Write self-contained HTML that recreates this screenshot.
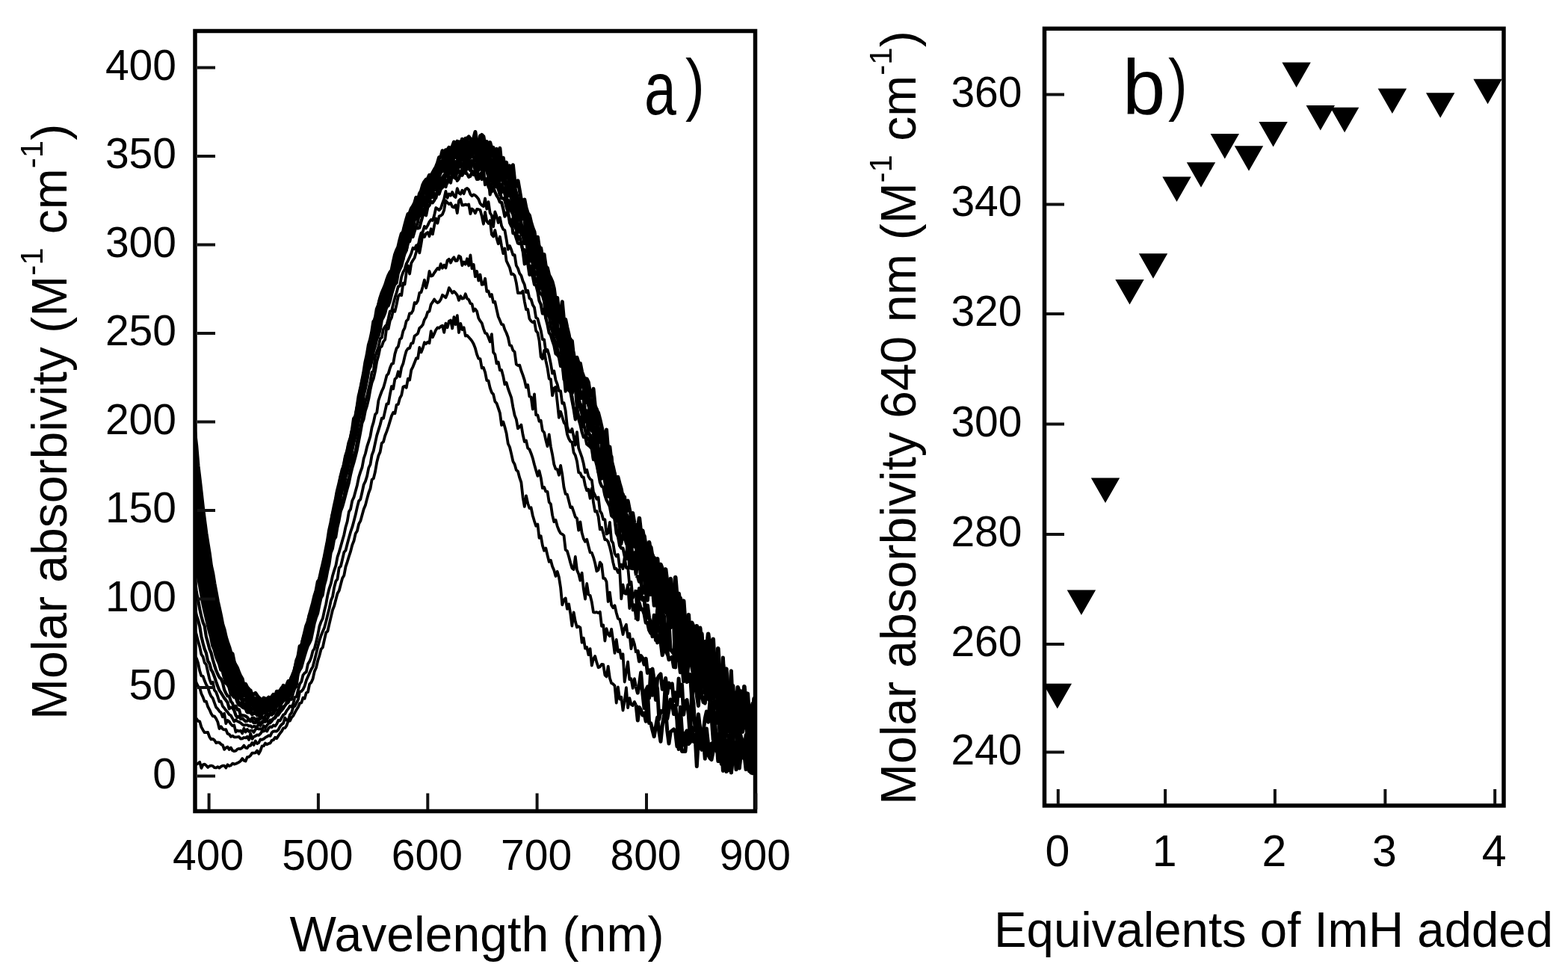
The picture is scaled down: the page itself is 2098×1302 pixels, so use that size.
<!DOCTYPE html>
<html><head><meta charset="utf-8"><title>Figure</title><style>html,body{margin:0;padding:0;background:#fff;overflow:hidden}svg{display:block}</style></head><body>
<svg width="2098" height="1302" viewBox="0 0 2098 1302">
<rect width="100%" height="100%" fill="#fff"/>
<defs><clipPath id="ca"><rect x="261" y="41.5" width="749.5" height="1044"/></clipPath></defs>
<g clip-path="url(#ca)" fill="none" stroke="#000" stroke-width="4" stroke-linejoin="round">
<polyline points="256.2,1022.0 258.4,1023.9 260.6,1021.9 262.8,1022.9 265.0,1021.7 267.2,1019.8 269.4,1027.8 271.6,1023.3 273.7,1022.6 275.9,1024.2 278.1,1026.9 280.3,1025.1 282.5,1024.5 284.7,1025.0 286.9,1027.2 289.1,1027.4 291.3,1026.1 293.5,1027.6 295.7,1025.7 297.9,1024.6 300.1,1024.6 302.3,1027.4 304.5,1023.3 306.7,1025.0 308.9,1024.3 311.1,1021.6 313.3,1022.6 315.5,1022.0 317.6,1021.1 319.8,1019.9 322.0,1018.2 324.2,1015.1 326.4,1017.7 328.6,1018.5 330.8,1013.1 333.0,1012.9 335.2,1010.9 337.4,1007.7 339.6,1007.6 341.8,1007.3 344.0,1004.5 346.2,1008.7 348.4,1004.5 350.6,998.3 352.8,998.2 355.0,994.6 357.2,996.1 359.4,995.0 361.6,994.4 363.7,990.8 365.9,990.1 368.1,986.7 370.3,988.1 372.5,984.5 374.7,981.2 376.9,978.5 379.1,974.3 381.3,974.2 383.5,970.9 385.7,964.7 387.9,964.7 390.1,960.1 392.3,958.0 394.5,953.6 396.7,949.6 398.9,946.3 401.1,941.0 403.3,940.5 405.5,933.7 407.6,934.8 409.8,927.1 412.0,926.0 414.2,915.3 416.4,913.2 418.6,908.4 420.8,898.4 423.0,893.5 425.2,884.3 427.4,877.3 429.6,868.8 431.8,866.3 434.0,856.1 436.2,846.5 438.4,844.5 440.6,834.9 442.8,825.6 445.0,816.3 447.2,810.8 449.4,802.2 451.5,794.3 453.7,790.4 455.9,781.9 458.1,773.8 460.3,770.1 462.5,758.4 464.7,751.8 466.9,744.5 469.1,737.9 471.3,729.2 473.5,723.8 475.7,714.1 477.9,710.5 480.1,701.2 482.3,697.2 484.5,689.2 486.7,681.2 488.9,676.1 491.1,667.4 493.3,659.5 495.5,653.8 497.6,641.8 499.8,640.3 502.0,631.3 504.2,618.6 506.4,609.8 508.6,604.9 510.8,592.9 513.0,591.2 515.2,583.0 517.4,577.4 519.6,571.0 521.8,563.6 524.0,556.4 526.2,551.9 528.4,553.3 530.6,541.7 532.8,540.9 535.0,532.8 537.2,528.9 539.4,517.7 541.5,516.7 543.7,518.8 545.9,506.7 548.1,508.6 550.3,495.1 552.5,490.8 554.7,485.3 556.9,479.3 559.1,479.6 561.3,464.8 563.5,471.4 565.7,466.1 567.9,458.2 570.1,460.0 572.3,457.6 574.5,459.1 576.7,443.2 578.9,451.2 581.1,446.4 583.3,441.3 585.5,438.4 587.6,439.0 589.8,436.8 592.0,435.7 594.2,444.9 596.4,432.7 598.6,438.3 600.8,429.7 603.0,428.6 605.2,439.5 607.4,424.2 609.6,434.2 611.8,422.2 614.0,445.0 616.2,432.8 618.4,441.1 620.6,438.2 622.8,449.5 625.0,448.9 627.2,451.3 629.4,453.7 631.5,456.4 633.7,460.2 635.9,465.9 638.1,474.3 640.3,479.9 642.5,480.2 644.7,492.5 646.9,491.9 649.1,498.1 651.3,509.1 653.5,509.3 655.7,519.1 657.9,525.2 660.1,527.6 662.3,537.2 664.5,539.7 666.7,546.0 668.9,552.6 671.1,568.9 673.3,564.4 675.4,571.2 677.6,579.8 679.8,593.7 682.0,598.3 684.2,607.4 686.4,617.4 688.6,621.3 690.8,629.0 693.0,630.7 695.2,639.2 697.4,645.5 699.6,665.3 701.8,677.9 704.0,663.3 706.2,673.5 708.4,680.0 710.6,679.3 712.8,690.0 715.0,697.3 717.2,703.8 719.4,701.6 721.5,719.9 723.7,717.2 725.9,729.9 728.1,736.8 730.3,733.5 732.5,743.0 734.7,751.7 736.9,749.7 739.1,758.0 741.3,763.1 743.5,771.0 745.7,764.8 747.9,772.4 750.1,786.2 752.3,809.3 754.5,802.7 756.7,800.4 758.9,814.8 761.1,808.4 763.3,821.3 765.4,837.5 767.6,819.3 769.8,831.5 772.0,839.4 774.2,838.2 776.4,839.7 778.6,859.9 780.8,853.7 783.0,867.7 785.2,866.1 787.4,876.2 789.6,868.1 791.8,890.6 794.0,881.6 796.2,878.0 798.4,886.4 800.6,893.2 802.8,892.3 805.0,889.0 807.2,889.2 809.4,903.3 811.5,905.4 813.7,891.6 815.9,907.4 818.1,914.1 820.3,915.2 822.5,917.6 824.7,940.6 826.9,919.4 829.1,935.5 831.3,932.7 833.5,950.6 835.7,937.6 837.9,920.2 840.1,947.1 842.3,934.1 844.5,942.6 846.7,944.1 848.9,939.1 851.1,943.3" stroke-width="3.8"/>
<polyline points="851.1,943.3 853.3,964.1 855.4,946.5 857.6,950.3 859.8,957.0 862.0,954.3 864.2,965.2 866.4,923.7 868.6,967.6 870.8,967.7 873.0,977.2 875.2,985.5 877.4,972.3 879.6,960.1 881.8,978.6 884.0,992.3 886.2,970.7 888.4,958.2 890.6,950.1 892.8,978.0 895.0,994.9 897.2,979.5 899.3,977.7 901.5,975.9 903.7,980.2 905.9,998.8 908.1,973.2 910.3,991.2 912.5,1005.4 914.7,1005.4 916.9,1005.6 919.1,983.4 921.3,995.5 923.5,993.1 925.7,978.6 927.9,992.3 930.1,985.9 932.3,1025.5 934.5,988.7 936.7,980.2 938.9,1003.1 941.1,976.7 943.3,981.5 945.4,1007.8 947.6,1010.4 949.8,1014.4 952.0,1016.6 954.2,1005.6 956.4,989.4 958.6,990.8 960.8,1018.6 963.0,989.9 965.2,1022.3 967.4,996.3 969.6,998.2 971.8,1032.5 974.0,992.2 976.2,1001.4 978.4,1033.9 980.6,1014.2 982.8,993.6 985.0,1005.7 987.2,1018.2 989.3,1025.5 991.5,1001.6 993.7,1005.6 995.9,1010.6 998.1,1029.6 1000.3,1014.0 1002.5,1031.8 1004.7,1006.0 1006.9,1019.6 1009.1,1033.5 1011.3,1027.2 1013.5,992.6 1015.7,1022.9 1017.9,985.8" stroke-width="5.0"/>
<polyline points="256.2,957.7 258.4,951.4 260.6,961.7 262.8,961.7 265.0,964.8 267.2,965.3 269.4,972.9 271.6,976.9 273.7,980.2 275.9,980.2 278.1,980.0 280.3,986.2 282.5,989.4 284.7,988.9 286.9,990.4 289.1,994.1 291.3,993.3 293.5,993.7 295.7,995.9 297.9,996.9 300.1,1002.9 302.3,1000.6 304.5,999.4 306.7,1002.9 308.9,1000.5 311.1,1004.3 313.3,1005.2 315.5,1004.7 317.6,1002.5 319.8,1001.8 322.0,1002.1 324.2,1000.4 326.4,997.6 328.6,1000.7 330.8,1001.0 333.0,997.7 335.2,997.8 337.4,993.9 339.6,996.9 341.8,991.4 344.0,995.1 346.2,993.9 348.4,989.5 350.6,989.8 352.8,988.8 355.0,986.9 357.2,985.8 359.4,984.2 361.6,984.9 363.7,980.3 365.9,978.6 368.1,978.3 370.3,978.5 372.5,976.4 374.7,972.0 376.9,969.4 379.1,967.9 381.3,960.5 383.5,963.8 385.7,963.8 387.9,956.5 390.1,953.8 392.3,946.4 394.5,944.8 396.7,940.3 398.9,936.3 401.1,925.5 403.3,925.1 405.5,922.5 407.6,918.0 409.8,910.6 412.0,905.6 414.2,900.6 416.4,895.8 418.6,892.1 420.8,883.6 423.0,874.9 425.2,865.6 427.4,857.1 429.6,850.5 431.8,845.0 434.0,839.9 436.2,831.7 438.4,822.7 440.6,814.0 442.8,803.6 445.0,798.6 447.2,785.9 449.4,777.6 451.5,774.8 453.7,759.9 455.9,757.7 458.1,748.8 460.3,739.1 462.5,736.5 464.7,727.7 466.9,719.6 469.1,711.7 471.3,705.4 473.5,697.2 475.7,688.8 477.9,678.9 480.1,670.3 482.3,668.1 484.5,658.7 486.7,648.5 488.9,644.1 491.1,637.2 493.3,626.0 495.5,621.5 497.6,608.9 499.8,603.2 502.0,592.9 504.2,582.6 506.4,575.6 508.6,568.5 510.8,559.7 513.0,559.9 515.2,550.2 517.4,540.5 519.6,540.4 521.8,527.9 524.0,517.0 526.2,520.3 528.4,507.2 530.6,505.4 532.8,497.3 535.0,503.9 537.2,491.7 539.4,486.6 541.5,477.3 543.7,469.5 545.9,466.4 548.1,465.9 550.3,459.4 552.5,459.2 554.7,449.5 556.9,448.1 559.1,446.3 561.3,438.9 563.5,437.2 565.7,434.6 567.9,427.7 570.1,424.3 572.3,417.4 574.5,416.6 576.7,407.3 578.9,404.2 581.1,400.5 583.3,403.5 585.5,405.2 587.6,403.8 589.8,400.7 592.0,394.8 594.2,396.3 596.4,398.2 598.6,392.9 600.8,385.2 603.0,388.4 605.2,392.1 607.4,389.9 609.6,392.1 611.8,395.0 614.0,401.8 616.2,396.3 618.4,399.6 620.6,399.2 622.8,393.3 625.0,399.7 627.2,400.9 629.4,406.0 631.5,406.7 633.7,416.5 635.9,413.5 638.1,416.6 640.3,425.8 642.5,429.4 644.7,432.3 646.9,439.8 649.1,445.7 651.3,446.3 653.5,451.6 655.7,457.3 657.9,447.2 660.1,471.6 662.3,474.2 664.5,486.3 666.7,484.5 668.9,495.3 671.1,495.2 673.3,503.5 675.4,514.3 677.6,512.0 679.8,520.0 682.0,526.1 684.2,532.2 686.4,544.8 688.6,555.6 690.8,561.1 693.0,573.3 695.2,571.2 697.4,568.5 699.6,581.8 701.8,591.0 704.0,589.6 706.2,599.7 708.4,601.3 710.6,606.7 712.8,613.1 715.0,621.7 717.2,629.4 719.4,636.9 721.5,630.0 723.7,639.1 725.9,653.1 728.1,652.0 730.3,657.7 732.5,657.9 734.7,671.9 736.9,674.4 739.1,689.4 741.3,698.2 743.5,695.8 745.7,704.1 747.9,709.7 750.1,713.6 752.3,714.8 754.5,716.6 756.7,735.8 758.9,737.4 761.1,744.7 763.3,753.2 765.4,760.3 767.6,762.1 769.8,744.9 772.0,762.7 774.2,767.9 776.4,776.7 778.6,766.6 780.8,788.0 783.0,801.5 785.2,781.0 787.4,795.4 789.6,796.8 791.8,805.5 794.0,819.3 796.2,819.7 798.4,819.1 800.6,820.2 802.8,818.7 805.0,837.8 807.2,836.5 809.4,857.5 811.5,841.2 813.7,848.8 815.9,851.2 818.1,841.9 820.3,856.7 822.5,873.9 824.7,855.8 826.9,872.0 829.1,869.7 831.3,880.9 833.5,875.3 835.7,912.5 837.9,898.8 840.1,885.7 842.3,909.2 844.5,908.2 846.7,920.9 848.9,908.2 851.1,918.6" stroke-width="3.8"/>
<polyline points="851.1,918.6 853.3,927.2 855.4,916.0 857.6,899.9 859.8,927.8 862.0,947.5 864.2,923.8 866.4,918.9 868.6,934.1 870.8,896.5 873.0,930.2 875.2,927.5 877.4,913.9 879.6,921.7 881.8,962.4 884.0,951.4 886.2,952.9 888.4,948.7 890.6,909.8 892.8,961.7 895.0,950.1 897.2,936.0 899.3,940.7 901.5,955.6 903.7,944.1 905.9,964.0 908.1,1002.5 910.3,946.2 912.5,978.4 914.7,997.1 916.9,981.4 919.1,977.9 921.3,981.0 923.5,990.3 925.7,973.3 927.9,988.4 930.1,991.4 932.3,979.3 934.5,965.4 936.7,994.8 938.9,1003.1 941.1,986.4 943.3,1015.3 945.4,974.9 947.6,995.8 949.8,1008.3 952.0,994.8 954.2,994.2 956.4,983.6 958.6,1005.1 960.8,1001.2 963.0,988.1 965.2,994.2 967.4,1031.4 969.6,993.8 971.8,1031.3 974.0,992.0 976.2,983.3 978.4,1033.6 980.6,990.8 982.8,1002.4 985.0,1029.8 987.2,987.3 989.3,1028.1 991.5,1006.1 993.7,1013.8 995.9,1014.6 998.1,992.0 1000.3,1025.0 1002.5,1025.8 1004.7,1033.8 1006.9,1034.6 1009.1,1015.2 1011.3,1003.6 1013.5,1001.0 1015.7,1031.6 1017.9,1019.3" stroke-width="5.0"/>
<polyline points="256.2,894.9 258.4,902.1 260.6,907.2 262.8,913.8 265.0,918.3 267.2,920.3 269.4,928.2 271.6,932.9 273.7,938.7 275.9,938.7 278.1,945.5 280.3,949.6 282.5,954.7 284.7,958.3 286.9,958.3 289.1,961.5 291.3,966.0 293.5,975.1 295.7,972.2 297.9,975.4 300.1,976.4 302.3,976.2 304.5,981.8 306.7,982.6 308.9,985.7 311.1,984.6 313.3,986.3 315.5,986.4 317.6,986.2 319.8,985.9 322.0,988.5 324.2,988.3 326.4,987.0 328.6,987.4 330.8,985.8 333.0,989.9 335.2,981.5 337.4,988.9 339.6,985.7 341.8,984.9 344.0,983.4 346.2,983.9 348.4,981.9 350.6,978.6 352.8,978.5 355.0,976.7 357.2,978.5 359.4,974.4 361.6,972.4 363.7,973.1 365.9,970.5 368.1,971.6 370.3,968.6 372.5,963.8 374.7,964.4 376.9,960.2 379.1,956.5 381.3,955.4 383.5,951.1 385.7,948.4 387.9,944.8 390.1,945.9 392.3,941.9 394.5,933.1 396.7,932.3 398.9,923.3 401.1,915.2 403.3,912.2 405.5,903.3 407.6,900.6 409.8,899.2 412.0,888.6 414.2,885.1 416.4,879.6 418.6,871.0 420.8,867.8 423.0,859.1 425.2,849.8 427.4,838.0 429.6,832.0 431.8,827.7 434.0,817.3 436.2,808.4 438.4,796.2 440.6,787.3 442.8,780.9 445.0,770.5 447.2,763.1 449.4,756.6 451.5,745.4 453.7,738.8 455.9,731.2 458.1,723.3 460.3,715.7 462.5,705.2 464.7,697.8 466.9,684.7 469.1,681.2 471.3,670.0 473.5,665.4 475.7,657.3 477.9,649.2 480.1,638.5 482.3,631.4 484.5,625.5 486.7,613.5 488.9,607.0 491.1,597.7 493.3,590.8 495.5,583.7 497.6,572.0 499.8,564.9 502.0,554.6 504.2,552.3 506.4,536.0 508.6,529.5 510.8,523.5 513.0,518.9 515.2,511.2 517.4,502.6 519.6,500.1 521.8,492.5 524.0,487.1 526.2,486.2 528.4,473.6 530.6,466.1 532.8,463.7 535.0,454.0 537.2,452.4 539.4,442.9 541.5,438.9 543.7,429.6 545.9,427.5 548.1,419.3 550.3,419.3 552.5,415.6 554.7,405.0 556.9,406.1 559.1,402.3 561.3,391.8 563.5,391.1 565.7,383.5 567.9,374.6 570.1,385.2 572.3,376.9 574.5,363.0 576.7,369.5 578.9,368.7 581.1,365.1 583.3,361.9 585.5,358.9 587.6,360.6 589.8,353.1 592.0,358.8 594.2,354.7 596.4,358.6 598.6,348.5 600.8,346.8 603.0,351.6 605.2,346.9 607.4,344.2 609.6,349.1 611.8,348.8 614.0,342.5 616.2,343.8 618.4,355.2 620.6,350.6 622.8,353.7 625.0,346.3 627.2,355.5 629.4,341.3 631.5,359.4 633.7,353.9 635.9,370.2 638.1,363.0 640.3,375.5 642.5,367.5 644.7,380.9 646.9,380.5 649.1,372.8 651.3,390.0 653.5,389.5 655.7,396.7 657.9,394.0 660.1,404.6 662.3,403.8 664.5,414.2 666.7,423.7 668.9,428.7 671.1,434.1 673.3,434.3 675.4,441.0 677.6,445.5 679.8,451.5 682.0,461.9 684.2,462.5 686.4,468.9 688.6,470.9 690.8,487.4 693.0,489.1 695.2,488.6 697.4,496.0 699.6,501.8 701.8,508.6 704.0,518.3 706.2,515.1 708.4,530.5 710.6,531.3 712.8,547.5 715.0,527.4 717.2,555.3 719.4,555.5 721.5,563.7 723.7,562.7 725.9,576.3 728.1,578.7 730.3,588.8 732.5,597.2 734.7,581.4 736.9,597.6 739.1,608.3 741.3,621.4 743.5,627.6 745.7,628.0 747.9,635.7 750.1,622.9 752.3,634.9 754.5,652.0 756.7,661.0 758.9,661.6 761.1,670.3 763.3,679.1 765.4,678.5 767.6,684.8 769.8,691.7 772.0,693.6 774.2,709.7 776.4,698.3 778.6,713.1 780.8,720.8 783.0,724.7 785.2,721.8 787.4,730.7 789.6,739.2 791.8,739.6 794.0,745.6 796.2,753.5 798.4,764.3 800.6,762.7 802.8,752.4 805.0,755.1 807.2,773.8 809.4,774.1 811.5,778.5 813.7,805.0 815.9,792.7 818.1,809.8 820.3,813.3 822.5,810.2 824.7,820.0 826.9,827.7 829.1,828.5 831.3,837.4 833.5,849.0 835.7,840.3 837.9,835.8 840.1,852.5 842.3,848.0 844.5,868.2 846.7,855.1 848.9,861.8 851.1,873.7" stroke-width="3.8"/>
<polyline points="851.1,873.7 853.3,871.4 855.4,884.9 857.6,877.6 859.8,880.7 862.0,889.0 864.2,881.3 866.4,900.5 868.6,896.9 870.8,901.4 873.0,895.2 875.2,909.4 877.4,936.6 879.6,908.1 881.8,904.4 884.0,901.8 886.2,922.3 888.4,918.2 890.6,907.5 892.8,928.1 895.0,914.0 897.2,919.8 899.3,914.9 901.5,938.3 903.7,926.9 905.9,943.3 908.1,908.0 910.3,931.3 912.5,916.1 914.7,956.2 916.9,938.7 919.1,936.6 921.3,956.6 923.5,988.7 925.7,924.2 927.9,941.0 930.1,976.8 932.3,979.5 934.5,955.7 936.7,974.2 938.9,988.4 941.1,978.3 943.3,961.4 945.4,952.1 947.6,966.3 949.8,939.9 952.0,958.9 954.2,989.5 956.4,961.1 958.6,992.7 960.8,986.0 963.0,980.8 965.2,978.9 967.4,970.6 969.6,985.8 971.8,1008.4 974.0,1031.1 976.2,996.9 978.4,1001.4 980.6,986.0 982.8,984.4 985.0,978.8 987.2,1004.1 989.3,1013.4 991.5,987.9 993.7,993.6 995.9,1004.3 998.1,983.6 1000.3,1011.1 1002.5,1025.7 1004.7,995.1 1006.9,976.4 1009.1,1016.6 1011.3,972.8 1013.5,975.4 1015.7,1003.1 1017.9,1025.3" stroke-width="5.0"/>
<polyline points="256.2,856.2 258.4,862.7 260.6,878.0 262.8,880.7 265.0,887.0 267.2,897.6 269.4,904.4 271.6,904.8 273.7,910.8 275.9,916.1 278.1,919.6 280.3,926.9 282.5,931.8 284.7,934.3 286.9,940.3 289.1,946.4 291.3,948.6 293.5,951.7 295.7,953.5 297.9,959.2 300.1,954.8 302.3,968.1 304.5,963.9 306.7,965.6 308.9,969.0 311.1,971.3 313.3,970.4 315.5,979.5 317.6,977.4 319.8,978.4 322.0,977.7 324.2,981.4 326.4,974.6 328.6,979.4 330.8,975.9 333.0,978.9 335.2,977.6 337.4,977.7 339.6,979.9 341.8,976.0 344.0,974.7 346.2,975.6 348.4,975.1 350.6,976.7 352.8,971.1 355.0,973.9 357.2,970.4 359.4,967.9 361.6,967.3 363.7,964.9 365.9,961.9 368.1,960.9 370.3,957.6 372.5,956.9 374.7,953.2 376.9,950.8 379.1,948.1 381.3,944.3 383.5,941.5 385.7,940.2 387.9,935.3 390.1,936.0 392.3,927.2 394.5,921.0 396.7,918.6 398.9,901.8 401.1,896.9 403.3,893.5 405.5,885.6 407.6,878.3 409.8,871.0 412.0,864.6 414.2,860.6 416.4,855.7 418.6,845.2 420.8,834.2 423.0,826.6 425.2,821.0 427.4,810.3 429.6,800.3 431.8,796.5 434.0,783.3 436.2,775.6 438.4,764.1 440.6,754.7 442.8,739.7 445.0,734.3 447.2,722.0 449.4,718.6 451.5,705.7 453.7,696.5 455.9,684.4 458.1,678.6 460.3,671.0 462.5,662.5 464.7,654.2 466.9,646.4 469.1,635.5 471.3,626.5 473.5,619.2 475.7,611.0 477.9,602.0 480.1,590.4 482.3,579.0 484.5,566.4 486.7,561.0 488.9,549.7 491.1,542.9 493.3,533.9 495.5,521.4 497.6,512.1 499.8,506.5 502.0,496.6 504.2,483.8 506.4,476.0 508.6,465.1 510.8,463.4 513.0,457.2 515.2,454.3 517.4,438.1 519.6,440.0 521.8,429.2 524.0,424.9 526.2,414.6 528.4,416.8 530.6,407.5 532.8,396.7 535.0,393.8 537.2,395.2 539.4,379.0 541.5,380.4 543.7,364.9 545.9,355.4 548.1,366.5 550.3,352.1 552.5,348.3 554.7,345.0 556.9,337.2 559.1,327.1 561.3,338.4 563.5,326.4 565.7,312.7 567.9,317.1 570.1,312.4 572.3,311.1 574.5,316.2 576.7,306.3 578.9,313.4 581.1,301.8 583.3,292.3 585.5,298.7 587.6,289.3 589.8,288.6 592.0,286.7 594.2,281.3 596.4,268.5 598.6,271.2 600.8,273.2 603.0,271.7 605.2,276.7 607.4,277.6 609.6,274.4 611.8,285.1 614.0,268.5 616.2,266.4 618.4,274.7 620.6,274.5 622.8,273.6 625.0,274.4 627.2,273.5 629.4,286.2 631.5,279.5 633.7,281.3 635.9,285.3 638.1,280.0 640.3,280.2 642.5,281.1 644.7,289.2 646.9,299.7 649.1,283.9 651.3,296.0 653.5,298.9 655.7,295.1 657.9,313.9 660.1,316.6 662.3,308.2 664.5,318.6 666.7,326.2 668.9,316.8 671.1,329.1 673.3,339.2 675.4,332.5 677.6,349.0 679.8,353.7 682.0,358.3 684.2,367.0 686.4,366.6 688.6,368.8 690.8,378.4 693.0,392.1 695.2,392.0 697.4,392.1 699.6,389.5 701.8,403.3 704.0,414.0 706.2,413.9 708.4,426.5 710.6,429.6 712.8,431.4 715.0,429.7 717.2,442.7 719.4,445.3 721.5,455.5 723.7,477.3 725.9,480.3 728.1,469.0 730.3,482.3 732.5,492.3 734.7,506.8 736.9,507.3 739.1,529.4 741.3,519.5 743.5,517.9 745.7,538.1 747.9,558.8 750.1,550.8 752.3,557.8 754.5,565.3 756.7,568.2 758.9,581.0 761.1,587.0 763.3,590.8 765.4,591.5 767.6,605.5 769.8,609.2 772.0,617.3 774.2,632.1 776.4,632.9 778.6,638.1 780.8,638.7 783.0,649.5 785.2,656.4 787.4,654.7 789.6,666.8 791.8,653.6 794.0,672.4 796.2,684.5 798.4,684.0 800.6,691.1 802.8,708.4 805.0,705.8 807.2,713.4 809.4,722.2 811.5,722.1 813.7,724.9 815.9,731.9 818.1,741.3 820.3,752.6 822.5,761.2 824.7,761.0 826.9,766.1 829.1,761.5 831.3,801.4 833.5,782.5 835.7,793.9 837.9,794.7 840.1,782.4 842.3,814.1 844.5,786.8 846.7,816.6 848.9,809.2 851.1,829.3" stroke-width="3.8"/>
<polyline points="851.1,829.3 853.3,817.1 855.4,807.2 857.6,815.4 859.8,815.3 862.0,821.4 864.2,833.2 866.4,833.2 868.6,843.1 870.8,847.3 873.0,834.0 875.2,832.7 877.4,843.4 879.6,860.0 881.8,850.8 884.0,858.9 886.2,876.8 888.4,870.1 890.6,861.2 892.8,872.0 895.0,882.8 897.2,881.3 899.3,879.2 901.5,892.5 903.7,867.4 905.9,882.8 908.1,884.1 910.3,887.0 912.5,887.8 914.7,912.1 916.9,887.4 919.1,910.3 921.3,911.4 923.5,902.6 925.7,936.6 927.9,915.1 930.1,903.8 932.3,930.5 934.5,944.5 936.7,898.1 938.9,930.3 941.1,939.6 943.3,941.0 945.4,919.6 947.6,935.1 949.8,937.7 952.0,944.3 954.2,942.8 956.4,968.0 958.6,967.5 960.8,944.2 963.0,949.6 965.2,980.9 967.4,1015.1 969.6,946.9 971.8,972.4 974.0,946.8 976.2,939.7 978.4,1011.7 980.6,1004.7 982.8,953.2 985.0,973.3 987.2,964.0 989.3,978.6 991.5,985.7 993.7,992.2 995.9,995.1 998.1,1011.8 1000.3,964.3 1002.5,972.0 1004.7,959.4 1006.9,1004.0 1009.1,982.1 1011.3,968.3 1013.5,998.6 1015.7,1002.5 1017.9,1028.5" stroke-width="5.0"/>
<polyline points="256.2,823.3 258.4,831.0 260.6,841.3 262.8,849.0 265.0,857.6 267.2,865.4 269.4,875.6 271.6,878.8 273.7,886.7 275.9,889.3 278.1,899.0 280.3,908.7 282.5,914.7 284.7,912.8 286.9,923.5 289.1,926.0 291.3,932.0 293.5,938.9 295.7,938.5 297.9,945.0 300.1,947.5 302.3,950.6 304.5,952.9 306.7,956.2 308.9,957.4 311.1,961.4 313.3,965.6 315.5,963.3 317.6,965.2 319.8,966.0 322.0,967.3 324.2,969.4 326.4,970.7 328.6,970.2 330.8,970.2 333.0,971.5 335.2,971.1 337.4,973.3 339.6,971.8 341.8,972.2 344.0,973.3 346.2,968.1 348.4,970.9 350.6,967.6 352.8,966.1 355.0,965.9 357.2,964.5 359.4,966.5 361.6,963.4 363.7,963.6 365.9,961.0 368.1,959.6 370.3,954.5 372.5,952.2 374.7,948.0 376.9,946.6 379.1,945.6 381.3,944.2 383.5,939.5 385.7,935.2 387.9,930.9 390.1,927.2 392.3,922.6 394.5,915.4 396.7,910.3 398.9,901.4 401.1,893.4 403.3,885.7 405.5,881.4 407.6,872.6 409.8,865.4 412.0,860.0 414.2,852.5 416.4,845.8 418.6,837.4 420.8,827.9 423.0,823.3 425.2,813.0 427.4,803.6 429.6,793.4 431.8,786.8 434.0,779.7 436.2,768.5 438.4,758.2 440.6,750.1 442.8,733.2 445.0,724.3 447.2,715.3 449.4,703.6 451.5,697.8 453.7,683.2 455.9,679.5 458.1,670.5 460.3,664.1 462.5,650.7 464.7,645.4 466.9,638.5 469.1,627.1 471.3,616.3 473.5,609.2 475.7,603.0 477.9,590.5 480.1,580.4 482.3,571.9 484.5,560.0 486.7,547.9 488.9,536.8 491.1,530.1 493.3,520.2 495.5,510.4 497.6,497.8 499.8,496.3 502.0,477.3 504.2,470.6 506.4,464.5 508.6,453.3 510.8,451.8 513.0,440.4 515.2,436.9 517.4,434.7 519.6,426.7 521.8,416.5 524.0,415.9 526.2,406.6 528.4,398.4 530.6,391.6 532.8,383.4 535.0,382.7 537.2,370.5 539.4,364.1 541.5,360.4 543.7,352.9 545.9,348.8 548.1,344.0 550.3,339.0 552.5,331.8 554.7,333.1 556.9,328.6 559.1,331.7 561.3,319.5 563.5,311.8 565.7,310.3 567.9,302.9 570.1,305.4 572.3,301.6 574.5,296.8 576.7,293.9 578.9,295.0 581.1,288.2 583.3,278.0 585.5,279.6 587.6,281.3 589.8,278.9 592.0,272.2 594.2,266.2 596.4,255.9 598.6,264.9 600.8,259.4 603.0,261.7 605.2,257.1 607.4,262.2 609.6,263.9 611.8,252.1 614.0,258.1 616.2,259.7 618.4,254.7 620.6,259.2 622.8,253.1 625.0,252.0 627.2,254.0 629.4,259.9 631.5,262.2 633.7,260.5 635.9,261.5 638.1,263.7 640.3,266.5 642.5,272.3 644.7,274.8 646.9,276.3 649.1,265.5 651.3,279.7 653.5,270.1 655.7,285.0 657.9,288.3 660.1,303.3 662.3,283.5 664.5,289.5 666.7,298.0 668.9,291.0 671.1,302.3 673.3,306.9 675.4,308.1 677.6,320.3 679.8,333.8 682.0,329.0 684.2,334.3 686.4,341.3 688.6,341.1 690.8,355.4 693.0,359.1 695.2,365.8 697.4,368.8 699.6,376.1 701.8,380.8 704.0,391.1 706.2,388.8 708.4,399.2 710.6,400.6 712.8,408.0 715.0,411.6 717.2,425.2 719.4,426.4 721.5,434.2 723.7,442.2 725.9,454.2 728.1,454.5 730.3,470.3 732.5,468.0 734.7,475.6 736.9,486.6 739.1,499.6 741.3,496.4 743.5,508.4 745.7,514.1 747.9,523.1 750.1,523.2 752.3,539.8 754.5,539.1 756.7,549.6 758.9,570.7 761.1,577.6 763.3,578.0 765.4,574.0 767.6,584.2 769.8,595.6 772.0,578.1 774.2,599.7 776.4,605.7 778.6,611.8 780.8,620.3 783.0,632.1 785.2,628.7 787.4,637.6 789.6,641.1 791.8,642.5 794.0,658.2 796.2,662.9 798.4,667.7 800.6,665.4 802.8,683.7 805.0,687.1 807.2,695.2 809.4,695.1 811.5,714.6 813.7,713.2 815.9,698.8 818.1,723.4 820.3,726.7 822.5,740.6 824.7,744.4 826.9,742.1 829.1,759.1 831.3,755.6 833.5,761.0 835.7,745.7 837.9,759.8 840.1,758.7 842.3,782.3 844.5,778.7 846.7,800.2 848.9,795.1 851.1,789.1" stroke-width="3.8"/>
<polyline points="851.1,789.1 853.3,829.1 855.4,787.4 857.6,796.0 859.8,802.8 862.0,800.0 864.2,827.9 866.4,809.9 868.6,826.9 870.8,833.9 873.0,851.7 875.2,823.3 877.4,856.7 879.6,815.8 881.8,837.0 884.0,853.1 886.2,866.6 888.4,847.8 890.6,865.6 892.8,875.1 895.0,834.3 897.2,869.6 899.3,871.8 901.5,874.9 903.7,857.1 905.9,874.5 908.1,879.3 910.3,899.8 912.5,864.8 914.7,859.7 916.9,903.5 919.1,912.6 921.3,881.4 923.5,884.6 925.7,892.2 927.9,904.1 930.1,908.2 932.3,923.1 934.5,886.2 936.7,907.7 938.9,914.9 941.1,915.0 943.3,913.6 945.4,934.5 947.6,918.0 949.8,931.6 952.0,940.5 954.2,957.2 956.4,937.7 958.6,947.3 960.8,938.9 963.0,964.3 965.2,908.1 967.4,925.7 969.6,998.3 971.8,953.4 974.0,943.6 976.2,979.7 978.4,910.8 980.6,971.7 982.8,977.5 985.0,943.7 987.2,994.0 989.3,963.8 991.5,966.0 993.7,979.4 995.9,966.6 998.1,957.6 1000.3,988.6 1002.5,995.8 1004.7,977.3 1006.9,988.2 1009.1,1027.2 1011.3,968.7 1013.5,967.1 1015.7,989.7 1017.9,997.0" stroke-width="5.0"/>
<polyline points="256.2,788.4 258.4,799.0 260.6,811.1 262.8,823.5 265.0,829.8 267.2,838.0 269.4,851.7 271.6,860.8 273.7,868.4 275.9,873.8 278.1,884.5 280.3,887.7 282.5,896.1 284.7,899.7 286.9,905.4 289.1,912.1 291.3,918.3 293.5,923.7 295.7,926.9 297.9,930.5 300.1,934.2 302.3,936.9 304.5,939.9 306.7,948.3 308.9,946.6 311.1,947.4 313.3,950.6 315.5,957.2 317.6,960.0 319.8,958.6 322.0,961.9 324.2,961.3 326.4,963.3 328.6,965.3 330.8,964.7 333.0,962.9 335.2,964.9 337.4,964.1 339.6,967.2 341.8,967.2 344.0,965.8 346.2,968.2 348.4,966.7 350.6,966.3 352.8,964.0 355.0,961.5 357.2,962.6 359.4,958.3 361.6,954.2 363.7,955.9 365.9,954.9 368.1,950.3 370.3,950.0 372.5,952.9 374.7,945.2 376.9,940.8 379.1,937.9 381.3,936.5 383.5,935.5 385.7,930.2 387.9,926.3 390.1,920.5 392.3,916.8 394.5,914.4 396.7,902.4 398.9,897.1 401.1,889.8 403.3,877.9 405.5,870.8 407.6,866.2 409.8,858.2 412.0,851.6 414.2,839.7 416.4,836.5 418.6,827.6 420.8,820.3 423.0,815.4 425.2,805.6 427.4,793.6 429.6,789.7 431.8,780.7 434.0,768.9 436.2,755.3 438.4,743.6 440.6,738.5 442.8,725.2 445.0,713.3 447.2,704.6 449.4,693.6 451.5,685.1 453.7,675.9 455.9,663.9 458.1,654.2 460.3,649.4 462.5,638.2 464.7,631.6 466.9,619.4 469.1,613.5 471.3,601.6 473.5,591.6 475.7,584.0 477.9,575.6 480.1,562.3 482.3,553.1 484.5,544.8 486.7,528.5 488.9,519.6 491.1,507.4 493.3,494.6 495.5,490.4 497.6,482.6 499.8,470.2 502.0,463.2 504.2,453.3 506.4,449.4 508.6,441.3 510.8,428.4 513.0,424.2 515.2,419.0 517.4,410.0 519.6,409.3 521.8,403.0 524.0,394.0 526.2,386.3 528.4,380.3 530.6,378.5 532.8,365.4 535.0,360.2 537.2,355.8 539.4,346.4 541.5,339.7 543.7,335.1 545.9,324.4 548.1,323.2 550.3,315.0 552.5,316.9 554.7,309.4 556.9,303.4 559.1,305.6 561.3,304.8 563.5,296.3 565.7,288.6 567.9,285.5 570.1,288.2 572.3,277.3 574.5,274.9 576.7,269.7 578.9,271.3 581.1,268.1 583.3,262.9 585.5,257.8 587.6,259.7 589.8,253.0 592.0,251.0 594.2,246.4 596.4,250.1 598.6,242.1 600.8,242.4 603.0,239.0 605.2,236.8 607.4,237.5 609.6,234.8 611.8,241.8 614.0,238.9 616.2,231.3 618.4,234.8 620.6,229.8 622.8,230.8 625.0,232.6 627.2,236.8 629.4,235.9 631.5,229.8 633.7,229.5 635.9,234.0 638.1,240.0 640.3,239.6 642.5,236.1 644.7,240.0 646.9,227.2 649.1,247.2 651.3,239.5 653.5,249.9 655.7,254.3 657.9,256.6 660.1,250.8 662.3,256.9 664.5,261.7 666.7,264.9 668.9,270.5 671.1,270.9 673.3,279.4 675.4,289.6 677.6,284.7 679.8,287.0 682.0,293.7 684.2,294.2 686.4,312.1 688.6,311.8 690.8,318.9 693.0,325.5 695.2,326.2 697.4,325.7 699.6,335.5 701.8,353.4 704.0,341.8 706.2,349.6 708.4,357.2 710.6,366.1 712.8,369.9 715.0,380.9 717.2,381.4 719.4,389.9 721.5,402.5 723.7,407.4 725.9,419.7 728.1,413.8 730.3,425.6 732.5,434.1 734.7,445.3 736.9,448.4 739.1,455.8 741.3,462.2 743.5,473.4 745.7,474.8 747.9,478.2 750.1,490.1 752.3,487.3 754.5,500.2 756.7,523.7 758.9,510.9 761.1,522.6 763.3,524.2 765.4,536.2 767.6,547.4 769.8,561.5 772.0,543.4 774.2,560.6 776.4,568.1 778.6,577.8 780.8,584.8 783.0,584.0 785.2,594.2 787.4,596.1 789.6,597.7 791.8,600.8 794.0,615.1 796.2,614.1 798.4,622.1 800.6,632.4 802.8,645.1 805.0,650.5 807.2,652.1 809.4,662.8 811.5,669.0 813.7,673.3 815.9,677.8 818.1,690.2 820.3,692.0 822.5,694.1 824.7,707.4 826.9,717.9 829.1,730.2 831.3,733.7 833.5,733.5 835.7,744.1 837.9,748.0 840.1,722.0 842.3,760.0 844.5,731.9 846.7,761.2 848.9,754.3 851.1,770.3" stroke-width="4.2"/>
<polyline points="851.1,770.3 853.3,771.6 855.4,778.3 857.6,776.7 859.8,793.9 862.0,789.8 864.2,792.2 866.4,798.7 868.6,786.3 870.8,795.5 873.0,790.4 875.2,793.6 877.4,768.5 879.6,812.8 881.8,814.4 884.0,809.7 886.2,859.4 888.4,823.8 890.6,845.1 892.8,857.0 895.0,836.0 897.2,839.9 899.3,835.9 901.5,831.3 903.7,893.1 905.9,836.9 908.1,858.3 910.3,879.9 912.5,886.4 914.7,844.2 916.9,867.8 919.1,888.8 921.3,855.0 923.5,888.2 925.7,865.5 927.9,907.7 930.1,875.2 932.3,884.1 934.5,925.6 936.7,882.4 938.9,892.2 941.1,910.7 943.3,917.5 945.4,917.9 947.6,927.0 949.8,865.8 952.0,908.3 954.2,935.3 956.4,895.8 958.6,916.9 960.8,912.7 963.0,988.2 965.2,926.7 967.4,934.3 969.6,959.3 971.8,943.8 974.0,916.7 976.2,935.2 978.4,960.6 980.6,934.3 982.8,975.6 985.0,958.7 987.2,971.5 989.3,973.4 991.5,934.6 993.7,951.2 995.9,958.2 998.1,953.0 1000.3,956.0 1002.5,955.1 1004.7,968.9 1006.9,941.4 1009.1,973.4 1011.3,995.4 1013.5,984.6 1015.7,955.5 1017.9,978.0" stroke-width="5.0"/>
<polyline points="256.2,752.6 258.4,768.6 260.6,773.5 262.8,792.2 265.0,802.5 267.2,814.7 269.4,824.8 271.6,832.8 273.7,837.6 275.9,852.0 278.1,859.7 280.3,868.3 282.5,873.6 284.7,882.6 286.9,890.0 289.1,896.8 291.3,902.0 293.5,906.4 295.7,908.4 297.9,913.4 300.1,922.9 302.3,927.5 304.5,931.4 306.7,931.6 308.9,938.5 311.1,941.1 313.3,947.6 315.5,944.8 317.6,949.6 319.8,949.4 322.0,957.1 324.2,957.2 326.4,957.5 328.6,958.2 330.8,959.8 333.0,962.6 335.2,965.1 337.4,960.7 339.6,960.5 341.8,963.2 344.0,961.6 346.2,963.5 348.4,960.0 350.6,959.6 352.8,961.7 355.0,958.0 357.2,954.3 359.4,957.6 361.6,953.9 363.7,956.6 365.9,952.6 368.1,950.1 370.3,944.7 372.5,943.4 374.7,942.0 376.9,940.1 379.1,937.0 381.3,935.8 383.5,931.9 385.7,928.9 387.9,926.2 390.1,921.1 392.3,920.8 394.5,905.8 396.7,902.1 398.9,894.2 401.1,885.6 403.3,877.2 405.5,870.3 407.6,864.6 409.8,852.6 412.0,848.5 414.2,842.4 416.4,839.4 418.6,825.7 420.8,820.6 423.0,809.9 425.2,801.8 427.4,794.8 429.6,786.1 431.8,779.4 434.0,768.7 436.2,756.0 438.4,745.0 440.6,732.0 442.8,719.2 445.0,707.3 447.2,699.0 449.4,686.3 451.5,675.3 453.7,675.8 455.9,663.5 458.1,654.5 460.3,647.2 462.5,634.9 464.7,625.3 466.9,612.7 469.1,610.7 471.3,600.4 473.5,588.4 475.7,581.5 477.9,569.7 480.1,560.3 482.3,548.6 484.5,537.6 486.7,524.6 488.9,517.1 491.1,507.9 493.3,494.4 495.5,490.8 497.6,475.9 499.8,463.4 502.0,458.7 504.2,449.4 506.4,439.6 508.6,430.4 510.8,423.4 513.0,420.1 515.2,413.4 517.4,411.5 519.6,404.7 521.8,396.5 524.0,391.3 526.2,385.2 528.4,373.9 530.6,367.9 532.8,360.9 535.0,356.4 537.2,350.0 539.4,347.2 541.5,332.2 543.7,334.6 545.9,324.8 548.1,314.9 550.3,313.5 552.5,306.4 554.7,303.8 556.9,303.3 559.1,297.0 561.3,282.0 563.5,286.3 565.7,280.7 567.9,278.8 570.1,280.2 572.3,262.6 574.5,270.4 576.7,261.7 578.9,264.0 581.1,258.8 583.3,264.8 585.5,254.1 587.6,250.2 589.8,252.7 592.0,244.2 594.2,237.5 596.4,241.7 598.6,245.1 600.8,236.0 603.0,244.6 605.2,232.4 607.4,236.3 609.6,238.6 611.8,222.1 614.0,230.8 616.2,231.8 618.4,226.1 620.6,227.5 622.8,231.8 625.0,221.8 627.2,225.6 629.4,227.2 631.5,229.0 633.7,233.8 635.9,230.9 638.1,224.8 640.3,237.2 642.5,233.4 644.7,230.6 646.9,235.4 649.1,242.3 651.3,240.3 653.5,236.8 655.7,260.3 657.9,247.3 660.1,239.7 662.3,249.5 664.5,250.4 666.7,251.4 668.9,257.5 671.1,265.4 673.3,265.3 675.4,268.0 677.6,276.9 679.8,283.4 682.0,298.0 684.2,302.5 686.4,292.5 688.6,302.9 690.8,307.1 693.0,320.5 695.2,316.4 697.4,325.0 699.6,335.6 701.8,334.1 704.0,352.5 706.2,352.1 708.4,367.8 710.6,356.0 712.8,360.2 715.0,369.4 717.2,377.4 719.4,372.7 721.5,390.7 723.7,393.1 725.9,395.6 728.1,403.1 730.3,425.3 732.5,416.7 734.7,421.6 736.9,437.5 739.1,443.5 741.3,453.1 743.5,458.3 745.7,466.2 747.9,476.0 750.1,480.4 752.3,485.6 754.5,507.7 756.7,497.6 758.9,507.1 761.1,516.1 763.3,523.7 765.4,530.5 767.6,545.2 769.8,550.0 772.0,548.5 774.2,556.9 776.4,558.7 778.6,571.3 780.8,566.9 783.0,575.8 785.2,586.4 787.4,586.3 789.6,594.5 791.8,590.9 794.0,613.8 796.2,593.1 798.4,614.5 800.6,623.7 802.8,626.2 805.0,640.6 807.2,627.6 809.4,645.9 811.5,660.1 813.7,664.5 815.9,657.3 818.1,681.8 820.3,674.1 822.5,695.1 824.7,713.6 826.9,717.9 829.1,714.7 831.3,727.8 833.5,714.9 835.7,719.1 837.9,727.3 840.1,709.2 842.3,755.6 844.5,760.6 846.7,750.8 848.9,741.5 851.1,767.8" stroke-width="4.2"/>
<polyline points="851.1,767.8 853.3,744.0 855.4,743.6 857.6,776.4 859.8,770.8 862.0,772.3 864.2,794.0 866.4,803.2 868.6,769.6 870.8,783.7 873.0,785.3 875.2,810.3 877.4,799.0 879.6,807.1 881.8,820.4 884.0,815.0 886.2,817.3 888.4,817.2 890.6,819.6 892.8,803.3 895.0,840.6 897.2,819.3 899.3,810.7 901.5,820.1 903.7,838.7 905.9,835.4 908.1,832.9 910.3,866.8 912.5,873.2 914.7,870.8 916.9,875.6 919.1,867.3 921.3,883.0 923.5,881.9 925.7,874.8 927.9,888.4 930.1,873.3 932.3,878.5 934.5,922.0 936.7,902.0 938.9,890.2 941.1,877.3 943.3,887.6 945.4,897.2 947.6,922.2 949.8,923.1 952.0,916.6 954.2,910.3 956.4,897.8 958.6,922.9 960.8,922.9 963.0,899.3 965.2,932.1 967.4,880.0 969.6,923.0 971.8,984.8 974.0,929.0 976.2,934.3 978.4,897.7 980.6,948.7 982.8,943.4 985.0,945.6 987.2,961.3 989.3,952.3 991.5,961.7 993.7,956.0 995.9,968.6 998.1,958.4 1000.3,963.5 1002.5,1007.3 1004.7,1007.9 1006.9,981.9 1009.1,939.7 1011.3,991.6 1013.5,966.8 1015.7,988.4 1017.9,989.8" stroke-width="5.0"/>
<polyline points="256.2,710.4 258.4,728.1 260.6,742.6 262.8,758.9 265.0,769.5 267.2,782.2 269.4,794.4 271.6,807.0 273.7,816.7 275.9,825.9 278.1,835.4 280.3,844.6 282.5,852.7 284.7,864.0 286.9,868.9 289.1,877.3 291.3,883.3 293.5,888.1 295.7,896.3 297.9,897.3 300.1,905.9 302.3,913.8 304.5,915.7 306.7,919.1 308.9,927.8 311.1,929.8 313.3,932.7 315.5,931.1 317.6,938.6 319.8,943.3 322.0,943.4 324.2,945.9 326.4,947.1 328.6,947.6 330.8,952.9 333.0,953.0 335.2,952.6 337.4,955.7 339.6,954.3 341.8,951.8 344.0,956.8 346.2,954.2 348.4,961.5 350.6,954.9 352.8,953.6 355.0,953.2 357.2,952.0 359.4,949.1 361.6,950.7 363.7,949.6 365.9,945.8 368.1,948.0 370.3,944.2 372.5,942.2 374.7,938.1 376.9,934.8 379.1,934.7 381.3,934.5 383.5,929.9 385.7,923.9 387.9,926.0 390.1,914.6 392.3,911.7 394.5,906.0 396.7,898.3 398.9,892.2 401.1,880.6 403.3,875.0 405.5,866.9 407.6,854.9 409.8,853.8 412.0,848.8 414.2,835.2 416.4,830.4 418.6,825.0 420.8,813.0 423.0,803.5 425.2,797.6 427.4,792.6 429.6,782.0 431.8,772.6 434.0,762.1 436.2,752.9 438.4,734.6 440.6,729.4 442.8,716.4 445.0,706.0 447.2,699.7 449.4,686.0 451.5,680.2 453.7,665.8 455.9,658.8 458.1,650.5 460.3,645.0 462.5,632.3 464.7,621.9 466.9,612.0 469.1,607.2 471.3,593.7 473.5,586.9 475.7,574.2 477.9,563.7 480.1,554.7 482.3,542.4 484.5,533.9 486.7,519.4 488.9,505.9 491.1,499.8 493.3,491.7 495.5,485.5 497.6,467.5 499.8,457.8 502.0,450.8 504.2,444.2 506.4,434.6 508.6,429.4 510.8,424.8 513.0,412.0 515.2,407.6 517.4,403.4 519.6,395.4 521.8,383.5 524.0,385.3 526.2,379.4 528.4,368.6 530.6,358.6 532.8,355.9 535.0,351.5 537.2,346.9 539.4,333.2 541.5,329.1 543.7,325.8 545.9,318.5 548.1,309.3 550.3,308.3 552.5,303.8 554.7,291.2 556.9,292.7 559.1,287.1 561.3,288.9 563.5,284.3 565.7,284.0 567.9,285.0 570.1,271.0 572.3,267.0 574.5,261.1 576.7,256.2 578.9,258.9 581.1,244.9 583.3,254.0 585.5,251.7 587.6,245.1 589.8,245.6 592.0,238.5 594.2,234.8 596.4,233.9 598.6,235.9 600.8,232.6 603.0,218.6 605.2,231.4 607.4,224.1 609.6,238.3 611.8,222.2 614.0,222.7 616.2,222.9 618.4,220.1 620.6,221.2 622.8,219.0 625.0,209.4 627.2,225.7 629.4,220.9 631.5,219.7 633.7,219.0 635.9,226.7 638.1,218.6 640.3,227.6 642.5,222.4 644.7,226.5 646.9,225.8 649.1,222.6 651.3,228.0 653.5,234.9 655.7,242.5 657.9,231.8 660.1,246.2 662.3,236.3 664.5,244.8 666.7,252.0 668.9,258.5 671.1,257.0 673.3,253.4 675.4,256.7 677.6,266.6 679.8,272.4 682.0,279.0 684.2,282.2 686.4,285.9 688.6,298.3 690.8,300.6 693.0,299.7 695.2,304.0 697.4,307.0 699.6,312.6 701.8,325.8 704.0,315.2 706.2,335.9 708.4,349.6 710.6,338.3 712.8,351.7 715.0,365.5 717.2,366.6 719.4,363.0 721.5,385.9 723.7,376.6 725.9,386.0 728.1,397.2 730.3,406.9 732.5,420.3 734.7,408.1 736.9,410.0 739.1,419.7 741.3,439.1 743.5,445.9 745.7,452.3 747.9,445.7 750.1,460.9 752.3,480.5 754.5,479.2 756.7,491.4 758.9,504.0 761.1,503.3 763.3,511.4 765.4,526.0 767.6,505.8 769.8,512.1 772.0,541.9 774.2,540.5 776.4,545.1 778.6,552.3 780.8,566.0 783.0,560.8 785.2,556.9 787.4,579.8 789.6,582.3 791.8,588.3 794.0,586.2 796.2,601.1 798.4,596.7 800.6,631.3 802.8,622.2 805.0,623.8 807.2,626.2 809.4,633.0 811.5,640.0 813.7,635.0 815.9,652.5 818.1,661.0 820.3,684.3 822.5,688.1 824.7,679.7 826.9,697.5 829.1,691.5 831.3,705.7 833.5,710.9 835.7,719.0 837.9,719.3 840.1,736.0 842.3,732.6 844.5,747.7 846.7,740.2 848.9,740.6 851.1,738.0" stroke-width="5.0"/>
<polyline points="851.1,738.0 853.3,754.0 855.4,758.7 857.6,748.9 859.8,763.3 862.0,764.0 864.2,752.5 866.4,794.1 868.6,767.8 870.8,772.9 873.0,792.3 875.2,795.5 877.4,789.7 879.6,798.0 881.8,800.2 884.0,800.5 886.2,812.1 888.4,810.1 890.6,798.9 892.8,818.3 895.0,828.4 897.2,826.9 899.3,817.6 901.5,821.5 903.7,842.9 905.9,855.0 908.1,854.0 910.3,840.4 912.5,836.4 914.7,863.5 916.9,866.6 919.1,860.5 921.3,876.4 923.5,871.2 925.7,882.4 927.9,877.1 930.1,888.0 932.3,872.1 934.5,882.0 936.7,898.1 938.9,895.7 941.1,904.1 943.3,898.5 945.4,908.2 947.6,918.9 949.8,925.2 952.0,911.9 954.2,927.4 956.4,904.8 958.6,909.7 960.8,915.3 963.0,917.9 965.2,962.9 967.4,922.5 969.6,920.2 971.8,939.6 974.0,916.1 976.2,947.6 978.4,940.2 980.6,947.7 982.8,946.7 985.0,953.6 987.2,949.1 989.3,978.2 991.5,937.8 993.7,949.7 995.9,934.6 998.1,970.1 1000.3,960.5 1002.5,965.0 1004.7,955.5 1006.9,968.2 1009.1,980.5 1011.3,961.5 1013.5,972.9 1015.7,941.0 1017.9,967.3" stroke-width="5.6"/>
<polyline points="256.2,691.0 258.4,711.8 260.6,726.7 262.8,742.0 265.0,751.8 267.2,773.8 269.4,777.2 271.6,796.4 273.7,804.7 275.9,814.2 278.1,828.5 280.3,836.1 282.5,843.9 284.7,847.9 286.9,862.1 289.1,873.9 291.3,875.9 293.5,880.7 295.7,889.7 297.9,893.7 300.1,902.2 302.3,907.4 304.5,910.3 306.7,916.0 308.9,919.2 311.1,925.0 313.3,925.7 315.5,932.5 317.6,937.2 319.8,941.6 322.0,941.3 324.2,944.6 326.4,942.2 328.6,945.4 330.8,945.6 333.0,951.3 335.2,951.5 337.4,954.0 339.6,954.5 341.8,953.8 344.0,954.2 346.2,954.3 348.4,953.6 350.6,951.5 352.8,952.4 355.0,949.6 357.2,951.4 359.4,949.4 361.6,948.4 363.7,949.1 365.9,946.8 368.1,947.4 370.3,941.7 372.5,940.0 374.7,938.8 376.9,934.8 379.1,933.9 381.3,928.2 383.5,928.5 385.7,922.5 387.9,921.6 390.1,912.9 392.3,911.7 394.5,905.7 396.7,897.1 398.9,894.4 401.1,883.3 403.3,874.3 405.5,865.9 407.6,859.3 409.8,853.8 412.0,845.0 414.2,833.7 416.4,824.9 418.6,814.9 420.8,812.6 423.0,802.5 425.2,795.5 427.4,789.5 429.6,777.9 431.8,770.2 434.0,763.0 436.2,749.0 438.4,738.1 440.6,725.5 442.8,710.5 445.0,704.2 447.2,694.7 449.4,685.2 451.5,669.9 453.7,665.7 455.9,656.5 458.1,648.2 460.3,637.4 462.5,628.7 464.7,617.9 466.9,609.1 469.1,599.8 471.3,594.1 473.5,581.0 475.7,573.1 477.9,561.4 480.1,547.2 482.3,540.8 484.5,530.5 486.7,521.3 488.9,506.0 491.1,497.4 493.3,487.2 495.5,476.8 497.6,467.8 499.8,458.1 502.0,446.4 504.2,441.9 506.4,426.7 508.6,421.0 510.8,417.4 513.0,410.3 515.2,402.6 517.4,395.2 519.6,396.5 521.8,386.5 524.0,380.8 526.2,372.0 528.4,367.4 530.6,358.7 532.8,353.0 535.0,347.3 537.2,340.4 539.4,329.2 541.5,324.5 543.7,320.8 545.9,313.5 548.1,308.3 550.3,312.5 552.5,305.2 554.7,290.9 556.9,290.1 559.1,283.8 561.3,284.1 563.5,277.4 565.7,272.0 567.9,264.1 570.1,265.0 572.3,262.0 574.5,256.0 576.7,257.8 578.9,244.8 581.1,250.7 583.3,241.8 585.5,249.4 587.6,238.3 589.8,240.2 592.0,237.9 594.2,244.6 596.4,229.1 598.6,220.5 600.8,226.9 603.0,222.6 605.2,222.7 607.4,222.1 609.6,216.7 611.8,221.3 614.0,204.4 616.2,220.0 618.4,219.5 620.6,223.3 622.8,225.4 625.0,200.6 627.2,214.2 629.4,227.8 631.5,215.3 633.7,215.9 635.9,214.9 638.1,215.0 640.3,215.8 642.5,222.2 644.7,226.9 646.9,226.2 649.1,217.3 651.3,217.3 653.5,230.0 655.7,230.6 657.9,228.9 660.1,227.4 662.3,239.4 664.5,234.3 666.7,229.1 668.9,260.0 671.1,247.2 673.3,252.2 675.4,255.7 677.6,268.2 679.8,268.1 682.0,270.8 684.2,276.2 686.4,281.4 688.6,282.5 690.8,281.3 693.0,310.5 695.2,306.1 697.4,312.4 699.6,315.0 701.8,317.3 704.0,309.3 706.2,328.3 708.4,329.8 710.6,339.2 712.8,339.3 715.0,342.7 717.2,358.0 719.4,348.5 721.5,367.8 723.7,378.4 725.9,387.5 728.1,382.1 730.3,402.7 732.5,404.1 734.7,409.1 736.9,416.8 739.1,424.6 741.3,437.5 743.5,445.6 745.7,447.6 747.9,463.1 750.1,457.3 752.3,460.8 754.5,470.2 756.7,483.1 758.9,494.4 761.1,495.0 763.3,505.1 765.4,517.0 767.6,516.8 769.8,519.7 772.0,528.5 774.2,535.8 776.4,540.7 778.6,544.3 780.8,549.6 783.0,556.8 785.2,549.8 787.4,556.8 789.6,571.1 791.8,576.4 794.0,574.3 796.2,601.3 798.4,602.0 800.6,602.6 802.8,604.6 805.0,628.8 807.2,634.3 809.4,632.0 811.5,641.4 813.7,661.1 815.9,653.1 818.1,659.4 820.3,668.6 822.5,682.2 824.7,682.0 826.9,666.1 829.1,713.3 831.3,699.1 833.5,704.7 835.7,720.7 837.9,724.1 840.1,723.6 842.3,724.1 844.5,723.1 846.7,757.2 848.9,743.8 851.1,753.6" stroke-width="5.0"/>
<polyline points="851.1,753.6 853.3,749.8 855.4,724.0 857.6,761.7 859.8,756.2 862.0,772.5 864.2,774.7 866.4,764.1 868.6,766.0 870.8,754.7 873.0,780.6 875.2,772.7 877.4,764.3 879.6,791.5 881.8,787.9 884.0,779.4 886.2,820.9 888.4,804.0 890.6,810.9 892.8,791.3 895.0,840.9 897.2,820.7 899.3,815.8 901.5,833.0 903.7,829.1 905.9,828.5 908.1,841.3 910.3,813.0 912.5,830.8 914.7,868.5 916.9,849.9 919.1,851.4 921.3,868.3 923.5,854.6 925.7,868.2 927.9,864.8 930.1,872.9 932.3,866.2 934.5,882.9 936.7,888.4 938.9,891.6 941.1,879.9 943.3,881.0 945.4,900.3 947.6,896.4 949.8,904.6 952.0,915.9 954.2,888.8 956.4,878.3 958.6,908.9 960.8,913.6 963.0,933.8 965.2,924.4 967.4,910.9 969.6,915.0 971.8,933.4 974.0,916.8 976.2,976.2 978.4,943.0 980.6,943.9 982.8,942.3 985.0,957.2 987.2,960.5 989.3,937.5 991.5,962.6 993.7,967.1 995.9,918.7 998.1,947.4 1000.3,984.5 1002.5,960.6 1004.7,953.2 1006.9,998.4 1009.1,967.3 1011.3,970.5 1013.5,968.9 1015.7,967.3 1017.9,977.2" stroke-width="5.6"/>
<polyline points="256.2,671.7 258.4,685.6 260.6,706.2 262.8,721.2 265.0,738.8 267.2,749.7 269.4,763.2 271.6,777.4 273.7,788.4 275.9,802.1 278.1,811.5 280.3,821.6 282.5,829.7 284.7,840.3 286.9,852.1 289.1,863.2 291.3,866.6 293.5,871.8 295.7,880.3 297.9,884.6 300.1,892.8 302.3,898.7 304.5,903.8 306.7,909.0 308.9,913.9 311.1,917.6 313.3,923.4 315.5,926.9 317.6,929.4 319.8,934.2 322.0,931.7 324.2,938.3 326.4,945.3 328.6,943.1 330.8,942.8 333.0,944.3 335.2,947.9 337.4,949.1 339.6,947.8 341.8,950.2 344.0,951.0 346.2,949.7 348.4,948.8 350.6,951.8 352.8,950.5 355.0,946.1 357.2,949.4 359.4,948.9 361.6,947.2 363.7,945.6 365.9,940.3 368.1,938.2 370.3,939.8 372.5,938.2 374.7,935.2 376.9,935.9 379.1,931.4 381.3,926.5 383.5,927.7 385.7,923.0 387.9,920.2 390.1,918.6 392.3,908.2 394.5,901.1 396.7,894.9 398.9,885.5 401.1,878.7 403.3,871.9 405.5,865.4 407.6,857.9 409.8,850.7 412.0,842.3 414.2,834.4 416.4,824.4 418.6,819.1 420.8,808.8 423.0,806.0 425.2,799.1 427.4,781.5 429.6,776.4 431.8,766.0 434.0,754.7 436.2,744.8 438.4,734.1 440.6,724.6 442.8,710.9 445.0,700.3 447.2,689.3 449.4,681.3 451.5,670.8 453.7,658.7 455.9,650.6 458.1,644.6 460.3,633.3 462.5,626.1 464.7,616.6 466.9,607.5 469.1,597.2 471.3,588.7 473.5,576.9 475.7,570.6 477.9,560.5 480.1,546.6 482.3,535.2 484.5,525.9 486.7,512.7 488.9,508.9 491.1,490.9 493.3,480.5 495.5,470.0 497.6,461.4 499.8,453.5 502.0,439.4 504.2,434.7 506.4,426.9 508.6,419.2 510.8,411.3 513.0,405.8 515.2,400.1 517.4,394.2 519.6,388.8 521.8,379.1 524.0,371.1 526.2,373.6 528.4,361.1 530.6,346.7 532.8,345.9 535.0,339.4 537.2,328.6 539.4,326.8 541.5,321.7 543.7,311.6 545.9,318.3 548.1,302.9 550.3,308.5 552.5,288.3 554.7,291.9 556.9,283.8 559.1,284.8 561.3,274.9 563.5,271.5 565.7,274.9 567.9,269.0 570.1,264.8 572.3,253.1 574.5,249.6 576.7,254.9 578.9,244.3 581.1,242.6 583.3,235.8 585.5,242.6 587.6,235.6 589.8,230.4 592.0,228.2 594.2,226.2 596.4,231.7 598.6,224.1 600.8,224.4 603.0,216.8 605.2,216.4 607.4,216.8 609.6,218.8 611.8,217.0 614.0,216.6 616.2,207.0 618.4,212.7 620.6,209.6 622.8,206.1 625.0,208.7 627.2,208.9 629.4,206.1 631.5,209.0 633.7,210.2 635.9,214.6 638.1,210.2 640.3,210.6 642.5,218.8 644.7,215.2 646.9,224.6 649.1,222.9 651.3,218.8 653.5,218.9 655.7,229.7 657.9,222.9 660.1,221.9 662.3,225.3 664.5,234.6 666.7,225.3 668.9,231.7 671.1,238.2 673.3,244.1 675.4,242.2 677.6,250.9 679.8,262.1 682.0,253.1 684.2,265.4 686.4,271.6 688.6,277.7 690.8,284.3 693.0,287.9 695.2,289.9 697.4,299.6 699.6,305.4 701.8,315.9 704.0,311.4 706.2,314.7 708.4,323.9 710.6,317.4 712.8,331.8 715.0,338.6 717.2,344.8 719.4,359.1 721.5,374.1 723.7,372.3 725.9,374.6 728.1,395.9 730.3,391.2 732.5,414.0 734.7,406.5 736.9,411.3 739.1,417.7 741.3,422.1 743.5,437.1 745.7,434.6 747.9,450.5 750.1,442.3 752.3,453.2 754.5,468.7 756.7,470.0 758.9,491.9 761.1,479.2 763.3,497.2 765.4,482.6 767.6,514.7 769.8,502.1 772.0,517.3 774.2,540.2 776.4,525.2 778.6,532.5 780.8,530.8 783.0,555.5 785.2,552.3 787.4,563.0 789.6,569.3 791.8,566.4 794.0,577.0 796.2,591.9 798.4,586.6 800.6,600.5 802.8,601.8 805.0,604.9 807.2,616.7 809.4,632.2 811.5,624.7 813.7,636.7 815.9,660.4 818.1,651.0 820.3,652.3 822.5,663.3 824.7,672.7 826.9,680.0 829.1,688.5 831.3,693.9 833.5,686.3 835.7,705.2 837.9,711.4 840.1,716.6 842.3,713.5 844.5,726.2 846.7,722.6 848.9,729.0 851.1,720.3" stroke-width="5.0"/>
<polyline points="851.1,720.3 853.3,742.5 855.4,739.2 857.6,749.7 859.8,746.9 862.0,753.2 864.2,747.8 866.4,763.7 868.6,775.9 870.8,777.8 873.0,769.4 875.2,784.4 877.4,781.9 879.6,787.4 881.8,769.0 884.0,782.5 886.2,801.6 888.4,801.9 890.6,793.4 892.8,807.0 895.0,781.5 897.2,813.7 899.3,819.3 901.5,802.4 903.7,842.8 905.9,830.0 908.1,842.4 910.3,847.1 912.5,853.2 914.7,857.7 916.9,852.5 919.1,856.9 921.3,860.2 923.5,862.5 925.7,867.9 927.9,874.8 930.1,869.8 932.3,865.4 934.5,883.0 936.7,884.0 938.9,878.2 941.1,897.5 943.3,927.1 945.4,903.2 947.6,864.1 949.8,921.9 952.0,905.9 954.2,897.9 956.4,898.2 958.6,909.1 960.8,952.4 963.0,912.6 965.2,939.2 967.4,924.2 969.6,910.2 971.8,949.8 974.0,945.1 976.2,931.4 978.4,939.7 980.6,967.0 982.8,931.2 985.0,955.6 987.2,919.8 989.3,927.2 991.5,966.9 993.7,960.8 995.9,963.2 998.1,936.4 1000.3,966.6 1002.5,981.6 1004.7,964.0 1006.9,957.4 1009.1,966.0 1011.3,968.5 1013.5,984.6 1015.7,957.7 1017.9,962.6" stroke-width="5.6"/>
<polyline points="256.2,646.4 258.4,664.6 260.6,684.8 262.8,699.6 265.0,714.6 267.2,731.3 269.4,745.9 271.6,759.8 273.7,772.4 275.9,785.7 278.1,799.0 280.3,806.5 282.5,818.5 284.7,827.9 286.9,838.4 289.1,847.9 291.3,854.3 293.5,862.6 295.7,865.4 297.9,875.8 300.1,881.2 302.3,889.1 304.5,894.3 306.7,900.7 308.9,907.3 311.1,910.5 313.3,917.4 315.5,922.6 317.6,920.6 319.8,925.7 322.0,930.5 324.2,936.3 326.4,936.1 328.6,937.1 330.8,940.2 333.0,947.3 335.2,943.1 337.4,940.0 339.6,946.2 341.8,944.8 344.0,948.4 346.2,949.1 348.4,945.1 350.6,949.1 352.8,946.4 355.0,945.9 357.2,945.0 359.4,944.8 361.6,945.5 363.7,943.7 365.9,943.3 368.1,938.8 370.3,938.8 372.5,934.9 374.7,935.4 376.9,933.3 379.1,928.4 381.3,925.2 383.5,924.5 385.7,924.6 387.9,917.1 390.1,912.0 392.3,907.2 394.5,902.6 396.7,888.0 398.9,881.1 401.1,876.0 403.3,871.0 405.5,864.0 407.6,854.5 409.8,848.6 412.0,840.5 414.2,831.6 416.4,821.9 418.6,818.0 420.8,806.4 423.0,800.7 425.2,791.1 427.4,782.2 429.6,774.7 431.8,764.6 434.0,756.6 436.2,746.1 438.4,734.1 440.6,724.1 442.8,707.6 445.0,698.9 447.2,686.6 449.4,675.7 451.5,665.8 453.7,659.6 455.9,651.8 458.1,641.4 460.3,631.0 462.5,622.7 464.7,613.2 466.9,601.8 469.1,597.6 471.3,583.3 473.5,575.9 475.7,564.0 477.9,555.7 480.1,541.9 482.3,535.3 484.5,521.4 486.7,508.0 488.9,499.7 491.1,492.6 493.3,478.8 495.5,468.2 497.6,455.7 499.8,449.4 502.0,437.8 504.2,431.7 506.4,419.3 508.6,416.5 510.8,412.4 513.0,398.9 515.2,399.5 517.4,391.6 519.6,385.6 521.8,374.7 524.0,370.5 526.2,360.3 528.4,359.4 530.6,350.9 532.8,344.6 535.0,328.4 537.2,331.5 539.4,320.3 541.5,316.4 543.7,308.2 545.9,297.4 548.1,307.2 550.3,294.5 552.5,293.7 554.7,285.1 556.9,283.5 559.1,280.0 561.3,272.3 563.5,269.7 565.7,260.7 567.9,256.8 570.1,254.7 572.3,252.7 574.5,253.3 576.7,245.5 578.9,241.0 581.1,243.0 583.3,232.4 585.5,236.3 587.6,228.4 589.8,228.7 592.0,223.0 594.2,223.2 596.4,226.6 598.6,220.5 600.8,212.7 603.0,211.3 605.2,220.8 607.4,206.8 609.6,209.3 611.8,211.8 614.0,213.4 616.2,205.9 618.4,202.5 620.6,216.3 622.8,205.9 625.0,201.4 627.2,202.8 629.4,202.4 631.5,205.5 633.7,204.5 635.9,203.7 638.1,214.1 640.3,210.4 642.5,208.4 644.7,199.9 646.9,209.1 649.1,221.3 651.3,206.7 653.5,206.1 655.7,212.3 657.9,217.0 660.1,213.7 662.3,225.0 664.5,215.9 666.7,209.4 668.9,232.4 671.1,236.4 673.3,236.4 675.4,231.8 677.6,252.5 679.8,245.1 682.0,255.1 684.2,259.2 686.4,267.5 688.6,276.2 690.8,273.3 693.0,276.2 695.2,290.4 697.4,287.2 699.6,292.7 701.8,285.7 704.0,301.8 706.2,301.8 708.4,324.4 710.6,318.6 712.8,324.6 715.0,333.0 717.2,341.0 719.4,356.9 721.5,348.6 723.7,378.5 725.9,368.1 728.1,375.6 730.3,375.4 732.5,391.7 734.7,398.3 736.9,406.0 739.1,408.4 741.3,409.1 743.5,420.4 745.7,443.3 747.9,445.7 750.1,440.9 752.3,448.9 754.5,450.8 756.7,458.5 758.9,474.9 761.1,482.5 763.3,477.0 765.4,484.2 767.6,495.2 769.8,507.6 772.0,515.7 774.2,502.8 776.4,528.1 778.6,526.2 780.8,529.9 783.0,534.4 785.2,538.5 787.4,538.3 789.6,550.7 791.8,559.7 794.0,570.3 796.2,572.6 798.4,582.4 800.6,591.5 802.8,589.6 805.0,593.8 807.2,616.7 809.4,619.6 811.5,619.1 813.7,634.7 815.9,640.7 818.1,636.2 820.3,655.0 822.5,673.6 824.7,652.6 826.9,677.2 829.1,672.6 831.3,667.8 833.5,680.1 835.7,692.4 837.9,696.1 840.1,712.1 842.3,711.6 844.5,713.5 846.7,713.9 848.9,731.2 851.1,721.7" stroke-width="5.0"/>
<polyline points="851.1,721.7 853.3,729.2 855.4,716.2 857.6,756.2 859.8,719.0 862.0,759.8 864.2,740.2 866.4,754.9 868.6,764.7 870.8,747.8 873.0,771.7 875.2,770.6 877.4,770.1 879.6,776.9 881.8,776.1 884.0,809.0 886.2,783.5 888.4,789.6 890.6,801.4 892.8,809.2 895.0,806.7 897.2,820.2 899.3,818.6 901.5,820.3 903.7,818.7 905.9,808.6 908.1,833.4 910.3,843.0 912.5,847.8 914.7,842.9 916.9,845.2 919.1,848.5 921.3,822.7 923.5,859.5 925.7,860.0 927.9,866.5 930.1,872.8 932.3,837.8 934.5,886.9 936.7,872.1 938.9,848.1 941.1,885.6 943.3,905.5 945.4,901.3 947.6,882.6 949.8,903.7 952.0,900.9 954.2,928.6 956.4,932.2 958.6,895.1 960.8,899.8 963.0,920.5 965.2,925.4 967.4,924.0 969.6,911.1 971.8,918.3 974.0,928.7 976.2,951.8 978.4,936.6 980.6,931.5 982.8,941.8 985.0,947.5 987.2,947.0 989.3,945.3 991.5,976.9 993.7,940.0 995.9,965.2 998.1,950.5 1000.3,928.3 1002.5,961.0 1004.7,953.5 1006.9,958.0 1009.1,938.9 1011.3,954.5 1013.5,963.1 1015.7,952.1 1017.9,970.3" stroke-width="5.6"/>
<polyline points="256.2,623.6 258.4,637.9 260.6,664.1 262.8,684.0 265.0,697.6 267.2,719.4 269.4,728.2 271.6,743.9 273.7,760.3 275.9,771.3 278.1,783.2 280.3,795.1 282.5,811.7 284.7,815.4 286.9,826.8 289.1,837.7 291.3,842.5 293.5,853.1 295.7,860.4 297.9,867.8 300.1,875.7 302.3,883.1 304.5,889.4 306.7,892.3 308.9,902.8 311.1,905.2 313.3,909.4 315.5,911.6 317.6,916.5 319.8,919.3 322.0,926.7 324.2,929.2 326.4,930.9 328.6,930.4 330.8,935.6 333.0,939.4 335.2,939.2 337.4,940.5 339.6,944.3 341.8,941.2 344.0,943.8 346.2,944.7 348.4,944.0 350.6,946.2 352.8,945.9 355.0,947.5 357.2,943.6 359.4,945.1 361.6,941.2 363.7,938.4 365.9,939.7 368.1,937.4 370.3,935.9 372.5,936.2 374.7,931.5 376.9,930.2 379.1,929.0 381.3,924.9 383.5,923.0 385.7,919.8 387.9,912.8 390.1,906.6 392.3,907.3 394.5,895.7 396.7,891.2 398.9,884.6 401.1,876.4 403.3,867.3 405.5,862.2 407.6,858.1 409.8,844.6 412.0,837.8 414.2,829.3 416.4,819.7 418.6,812.8 420.8,809.9 423.0,798.5 425.2,789.7 427.4,783.3 429.6,772.1 431.8,760.6 434.0,754.3 436.2,743.7 438.4,733.7 440.6,718.7 442.8,708.0 445.0,696.4 447.2,684.2 449.4,673.1 451.5,663.6 453.7,659.8 455.9,646.9 458.1,635.9 460.3,629.2 462.5,620.5 464.7,611.9 466.9,602.5 469.1,593.7 471.3,584.6 473.5,577.6 475.7,566.3 477.9,558.5 480.1,536.2 482.3,530.8 484.5,519.2 486.7,507.2 488.9,498.3 491.1,486.6 493.3,479.4 495.5,465.7 497.6,453.5 499.8,445.1 502.0,437.0 504.2,428.7 506.4,416.6 508.6,411.1 510.8,404.2 513.0,400.0 515.2,395.4 517.4,387.5 519.6,382.7 521.8,376.7 524.0,365.4 526.2,362.4 528.4,356.9 530.6,350.5 532.8,344.4 535.0,335.0 537.2,328.9 539.4,321.8 541.5,305.2 543.7,310.3 545.9,303.4 548.1,298.2 550.3,286.8 552.5,288.5 554.7,278.8 556.9,272.8 559.1,272.7 561.3,267.2 563.5,265.8 565.7,262.5 567.9,249.9 570.1,245.3 572.3,244.6 574.5,248.7 576.7,245.2 578.9,238.4 581.1,241.3 583.3,242.5 585.5,233.5 587.6,217.2 589.8,225.3 592.0,220.6 594.2,225.6 596.4,205.7 598.6,203.3 600.8,212.3 603.0,215.9 605.2,197.6 607.4,204.8 609.6,209.2 611.8,207.1 614.0,207.5 616.2,209.4 618.4,203.2 620.6,205.6 622.8,203.9 625.0,209.7 627.2,200.0 629.4,210.7 631.5,208.2 633.7,203.2 635.9,202.0 638.1,197.8 640.3,198.7 642.5,212.8 644.7,202.6 646.9,202.8 649.1,210.3 651.3,198.0 653.5,214.4 655.7,221.7 657.9,215.3 660.1,218.8 662.3,200.4 664.5,210.7 666.7,224.4 668.9,228.9 671.1,228.7 673.3,232.9 675.4,245.8 677.6,246.5 679.8,252.1 682.0,233.6 684.2,244.2 686.4,255.6 688.6,267.5 690.8,267.0 693.0,267.5 695.2,286.0 697.4,282.3 699.6,290.8 701.8,278.8 704.0,317.5 706.2,302.4 708.4,304.8 710.6,329.9 712.8,326.2 715.0,332.8 717.2,337.9 719.4,345.2 721.5,359.2 723.7,355.8 725.9,361.2 728.1,375.8 730.3,362.1 732.5,385.5 734.7,388.7 736.9,410.2 739.1,407.1 741.3,401.4 743.5,411.5 745.7,421.4 747.9,430.9 750.1,424.5 752.3,444.8 754.5,453.7 756.7,461.8 758.9,473.5 761.1,477.4 763.3,471.4 765.4,491.7 767.6,494.0 769.8,492.8 772.0,506.4 774.2,506.7 776.4,532.8 778.6,527.9 780.8,523.3 783.0,535.9 785.2,533.6 787.4,541.4 789.6,548.1 791.8,561.7 794.0,546.6 796.2,566.8 798.4,556.7 800.6,586.1 802.8,583.7 805.0,584.8 807.2,607.5 809.4,613.0 811.5,638.5 813.7,605.3 815.9,627.9 818.1,637.5 820.3,658.8 822.5,665.1 824.7,654.6 826.9,667.3 829.1,661.4 831.3,689.1 833.5,695.7 835.7,703.7 837.9,690.4 840.1,700.9 842.3,700.7 844.5,717.7 846.7,718.1 848.9,726.3 851.1,730.7" stroke-width="5.0"/>
<polyline points="851.1,730.7 853.3,741.8 855.4,718.1 857.6,737.5 859.8,746.9 862.0,754.1 864.2,739.8 866.4,751.3 868.6,758.9 870.8,764.4 873.0,749.2 875.2,752.5 877.4,764.4 879.6,755.9 881.8,779.1 884.0,778.1 886.2,771.8 888.4,771.8 890.6,786.1 892.8,800.0 895.0,801.9 897.2,814.6 899.3,815.4 901.5,812.1 903.7,834.8 905.9,825.7 908.1,825.0 910.3,832.3 912.5,819.1 914.7,842.6 916.9,849.3 919.1,834.1 921.3,839.0 923.5,860.9 925.7,867.8 927.9,857.8 930.1,855.7 932.3,867.3 934.5,854.1 936.7,889.7 938.9,900.3 941.1,877.5 943.3,894.1 945.4,861.0 947.6,888.3 949.8,913.5 952.0,901.2 954.2,899.6 956.4,923.5 958.6,909.3 960.8,903.2 963.0,914.9 965.2,916.5 967.4,926.4 969.6,932.0 971.8,916.5 974.0,927.8 976.2,937.8 978.4,948.0 980.6,943.0 982.8,957.7 985.0,969.4 987.2,973.1 989.3,950.4 991.5,934.0 993.7,954.0 995.9,940.7 998.1,949.4 1000.3,970.2 1002.5,957.4 1004.7,953.9 1006.9,978.5 1009.1,956.8 1011.3,973.5 1013.5,1007.6 1015.7,974.5 1017.9,967.3" stroke-width="5.6"/>
<polyline points="256.2,600.1 258.4,620.8 260.6,642.3 262.8,662.1 265.0,682.4 267.2,696.5 269.4,710.7 271.6,725.4 273.7,742.9 275.9,756.4 278.1,771.9 280.3,782.7 282.5,794.5 284.7,804.1 286.9,815.4 289.1,827.3 291.3,830.5 293.5,842.4 295.7,846.3 297.9,855.9 300.1,865.9 302.3,871.7 304.5,883.5 306.7,884.3 308.9,898.8 311.1,896.7 313.3,904.3 315.5,909.3 317.6,914.6 319.8,914.1 322.0,918.4 324.2,922.7 326.4,925.0 328.6,930.8 330.8,930.8 333.0,935.6 335.2,938.0 337.4,937.6 339.6,939.3 341.8,941.5 344.0,938.4 346.2,941.6 348.4,941.1 350.6,937.5 352.8,943.1 355.0,937.1 357.2,942.0 359.4,938.6 361.6,942.3 363.7,940.2 365.9,938.2 368.1,936.0 370.3,933.3 372.5,930.9 374.7,930.4 376.9,928.4 379.1,923.6 381.3,923.3 383.5,921.8 385.7,918.4 387.9,915.7 390.1,913.4 392.3,904.6 394.5,897.3 396.7,889.0 398.9,881.5 401.1,875.2 403.3,865.5 405.5,855.9 407.6,850.8 409.8,843.5 412.0,835.8 414.2,823.2 416.4,820.3 418.6,810.9 420.8,805.7 423.0,798.5 425.2,788.2 427.4,778.9 429.6,769.3 431.8,757.5 434.0,754.8 436.2,741.2 438.4,727.2 440.6,714.5 442.8,705.1 445.0,695.7 447.2,682.7 449.4,674.6 451.5,666.9 453.7,653.7 455.9,646.2 458.1,635.1 460.3,622.3 462.5,619.2 464.7,611.7 466.9,600.4 469.1,587.0 471.3,582.5 473.5,574.8 475.7,560.0 477.9,547.4 480.1,536.0 482.3,530.6 484.5,515.8 486.7,504.7 488.9,496.6 491.1,486.9 493.3,471.3 495.5,465.1 497.6,451.7 499.8,441.4 502.0,440.6 504.2,429.7 506.4,419.7 508.6,408.3 510.8,399.2 513.0,400.6 515.2,391.8 517.4,384.2 519.6,377.2 521.8,374.5 524.0,366.0 526.2,368.3 528.4,353.5 530.6,348.6 532.8,332.1 535.0,332.5 537.2,324.8 539.4,318.5 541.5,311.8 543.7,301.7 545.9,308.4 548.1,295.9 550.3,288.6 552.5,284.8 554.7,280.3 556.9,285.2 559.1,275.3 561.3,267.1 563.5,263.5 565.7,254.6 567.9,254.1 570.1,251.7 572.3,246.2 574.5,247.9 576.7,241.3 578.9,234.0 581.1,237.7 583.3,234.1 585.5,229.5 587.6,230.2 589.8,221.5 592.0,215.5 594.2,216.3 596.4,215.7 598.6,214.0 600.8,208.7 603.0,211.5 605.2,204.6 607.4,206.6 609.6,205.1 611.8,203.2 614.0,201.1 616.2,200.7 618.4,201.1 620.6,201.4 622.8,192.6 625.0,198.7 627.2,190.9 629.4,198.6 631.5,194.3 633.7,201.5 635.9,203.2 638.1,197.5 640.3,200.3 642.5,207.9 644.7,205.6 646.9,201.1 649.1,206.3 651.3,204.5 653.5,206.7 655.7,212.4 657.9,223.3 660.1,213.2 662.3,217.8 664.5,212.6 666.7,219.1 668.9,217.9 671.1,229.9 673.3,229.1 675.4,223.5 677.6,235.9 679.8,237.8 682.0,234.7 684.2,243.1 686.4,242.0 688.6,261.7 690.8,269.7 693.0,266.4 695.2,272.7 697.4,275.9 699.6,290.0 701.8,293.2 704.0,307.6 706.2,310.0 708.4,307.2 710.6,308.5 712.8,324.4 715.0,323.1 717.2,335.8 719.4,341.0 721.5,342.8 723.7,353.0 725.9,358.1 728.1,366.4 730.3,356.2 732.5,383.6 734.7,388.5 736.9,392.4 739.1,397.6 741.3,408.5 743.5,414.6 745.7,402.2 747.9,422.7 750.1,430.0 752.3,436.5 754.5,444.6 756.7,457.8 758.9,455.9 761.1,471.2 763.3,474.2 765.4,483.2 767.6,490.0 769.8,489.2 772.0,496.3 774.2,502.9 776.4,512.9 778.6,511.5 780.8,518.4 783.0,520.0 785.2,538.2 787.4,521.8 789.6,557.1 791.8,551.7 794.0,560.1 796.2,564.2 798.4,567.9 800.6,580.4 802.8,589.8 805.0,592.9 807.2,592.8 809.4,614.5 811.5,612.9 813.7,610.2 815.9,616.2 818.1,636.6 820.3,633.2 822.5,654.4 824.7,660.0 826.9,665.3 829.1,678.3 831.3,676.1 833.5,668.9 835.7,690.8 837.9,692.4 840.1,714.1 842.3,712.0 844.5,699.3 846.7,711.5 848.9,718.7 851.1,725.3" stroke-width="5.0"/>
<polyline points="851.1,725.3 853.3,706.7 855.4,726.6 857.6,739.3 859.8,738.0 862.0,752.2 864.2,735.8 866.4,737.8 868.6,741.7 870.8,768.6 873.0,742.8 875.2,767.1 877.4,752.1 879.6,747.8 881.8,777.2 884.0,766.5 886.2,792.9 888.4,813.8 890.6,788.2 892.8,802.3 895.0,795.8 897.2,788.4 899.3,823.3 901.5,804.1 903.7,812.5 905.9,829.8 908.1,821.7 910.3,812.9 912.5,831.6 914.7,823.7 916.9,839.6 919.1,842.9 921.3,860.3 923.5,849.4 925.7,858.6 927.9,889.7 930.1,853.1 932.3,854.7 934.5,867.4 936.7,882.7 938.9,874.4 941.1,875.0 943.3,892.7 945.4,895.4 947.6,917.0 949.8,889.8 952.0,904.7 954.2,934.9 956.4,883.4 958.6,910.0 960.8,904.5 963.0,920.2 965.2,919.5 967.4,889.5 969.6,906.7 971.8,949.0 974.0,926.0 976.2,930.6 978.4,942.1 980.6,940.3 982.8,950.7 985.0,938.9 987.2,934.5 989.3,967.4 991.5,936.2 993.7,956.7 995.9,927.4 998.1,951.0 1000.3,979.4 1002.5,959.6 1004.7,945.1 1006.9,951.8 1009.1,967.4 1011.3,927.7 1013.5,982.7 1015.7,997.9 1017.9,954.3" stroke-width="5.6"/>
<polyline points="256.2,571.2 258.4,602.8 260.6,620.6 262.8,640.6 265.0,660.5 267.2,674.2 269.4,695.5 271.6,717.0 273.7,727.3 275.9,740.7 278.1,751.4 280.3,768.4 282.5,779.4 284.7,787.4 286.9,803.5 289.1,811.5 291.3,828.8 293.5,832.1 295.7,841.2 297.9,853.0 300.1,860.2 302.3,867.2 304.5,871.8 306.7,881.4 308.9,888.6 311.1,891.8 313.3,901.8 315.5,902.9 317.6,908.1 319.8,912.3 322.0,917.9 324.2,918.0 326.4,921.1 328.6,925.4 330.8,929.6 333.0,930.6 335.2,933.6 337.4,934.7 339.6,937.7 341.8,938.3 344.0,940.0 346.2,940.7 348.4,937.4 350.6,938.1 352.8,941.5 355.0,937.4 357.2,941.9 359.4,937.6 361.6,934.4 363.7,933.3 365.9,938.7 368.1,934.6 370.3,931.6 372.5,929.0 374.7,929.7 376.9,921.1 379.1,925.4 381.3,921.1 383.5,919.7 385.7,916.9 387.9,911.4 390.1,908.0 392.3,904.9 394.5,894.5 396.7,886.9 398.9,878.8 401.1,872.0 403.3,868.2 405.5,856.7 407.6,852.7 409.8,843.4 412.0,836.3 414.2,831.1 416.4,818.2 418.6,812.9 420.8,802.6 423.0,791.9 425.2,786.9 427.4,779.8 429.6,770.3 431.8,762.2 434.0,750.9 436.2,741.7 438.4,727.5 440.6,718.2 442.8,709.0 445.0,690.4 447.2,681.9 449.4,673.7 451.5,658.1 453.7,657.4 455.9,643.3 458.1,635.8 460.3,627.3 462.5,613.4 464.7,608.6 466.9,600.8 469.1,591.5 471.3,579.1 473.5,569.3 475.7,561.7 477.9,547.6 480.1,538.5 482.3,520.5 484.5,515.2 486.7,504.2 488.9,495.0 491.1,482.1 493.3,472.4 495.5,462.1 497.6,449.4 499.8,441.8 502.0,438.0 504.2,420.2 506.4,413.5 508.6,406.6 510.8,404.0 513.0,394.3 515.2,395.9 517.4,380.9 519.6,377.3 521.8,371.0 524.0,366.9 526.2,358.9 528.4,350.9 530.6,349.1 532.8,336.1 535.0,333.0 537.2,323.3 539.4,321.1 541.5,304.2 543.7,300.9 545.9,296.3 548.1,292.4 550.3,282.4 552.5,286.0 554.7,276.0 556.9,271.7 559.1,272.1 561.3,263.6 563.5,256.8 565.7,259.8 567.9,251.5 570.1,248.7 572.3,247.5 574.5,244.4 576.7,237.8 578.9,247.1 581.1,238.7 583.3,230.9 585.5,223.5 587.6,231.3 589.8,220.8 592.0,221.7 594.2,213.4 596.4,214.7 598.6,212.2 600.8,208.5 603.0,202.1 605.2,217.1 607.4,200.1 609.6,202.4 611.8,197.5 614.0,198.5 616.2,199.7 618.4,186.8 620.6,197.0 622.8,198.4 625.0,202.3 627.2,196.8 629.4,197.1 631.5,202.3 633.7,188.5 635.9,196.3 638.1,197.8 640.3,212.3 642.5,199.4 644.7,190.4 646.9,195.9 649.1,200.0 651.3,195.3 653.5,204.2 655.7,201.3 657.9,208.2 660.1,208.7 662.3,203.0 664.5,214.7 666.7,203.4 668.9,219.6 671.1,228.7 673.3,218.7 675.4,230.7 677.6,231.6 679.8,238.2 682.0,236.5 684.2,229.4 686.4,246.1 688.6,251.8 690.8,258.2 693.0,266.9 695.2,270.6 697.4,271.4 699.6,282.1 701.8,287.4 704.0,290.2 706.2,306.0 708.4,301.7 710.6,301.5 712.8,311.5 715.0,313.5 717.2,322.2 719.4,334.2 721.5,339.6 723.7,348.8 725.9,353.8 728.1,364.8 730.3,382.1 732.5,371.2 734.7,377.7 736.9,387.5 739.1,387.5 741.3,397.1 743.5,407.6 745.7,415.7 747.9,421.0 750.1,429.7 752.3,442.8 754.5,447.2 756.7,443.8 758.9,464.6 761.1,465.1 763.3,466.1 765.4,468.5 767.6,480.5 769.8,485.4 772.0,492.6 774.2,504.9 776.4,503.0 778.6,512.8 780.8,519.2 783.0,526.7 785.2,517.4 787.4,537.1 789.6,537.3 791.8,556.2 794.0,555.2 796.2,551.0 798.4,547.8 800.6,573.5 802.8,577.1 805.0,580.1 807.2,591.5 809.4,603.3 811.5,627.3 813.7,610.0 815.9,621.5 818.1,611.0 820.3,637.8 822.5,634.2 824.7,648.2 826.9,658.2 829.1,667.3 831.3,667.7 833.5,661.7 835.7,684.4 837.9,688.3 840.1,691.9 842.3,706.8 844.5,709.9 846.7,706.9 848.9,721.2 851.1,702.2" stroke-width="5.0"/>
<polyline points="851.1,702.2 853.3,718.4 855.4,726.6 857.6,725.5 859.8,728.7 862.0,717.4 864.2,734.1 866.4,736.6 868.6,737.7 870.8,758.9 873.0,755.8 875.2,758.8 877.4,761.1 879.6,773.5 881.8,772.6 884.0,769.1 886.2,771.5 888.4,782.1 890.6,801.4 892.8,807.1 895.0,794.8 897.2,810.7 899.3,812.2 901.5,806.1 903.7,802.8 905.9,818.3 908.1,819.4 910.3,800.5 912.5,833.4 914.7,836.1 916.9,839.7 919.1,836.5 921.3,840.8 923.5,858.4 925.7,856.0 927.9,842.3 930.1,872.2 932.3,854.6 934.5,870.2 936.7,869.3 938.9,877.3 941.1,894.9 943.3,894.0 945.4,919.6 947.6,881.4 949.8,893.1 952.0,908.7 954.2,900.0 956.4,903.3 958.6,903.1 960.8,909.8 963.0,918.7 965.2,941.7 967.4,917.9 969.6,913.6 971.8,923.3 974.0,928.0 976.2,930.8 978.4,968.7 980.6,929.7 982.8,936.5 985.0,944.1 987.2,951.9 989.3,929.8 991.5,951.0 993.7,950.8 995.9,951.0 998.1,927.8 1000.3,968.8 1002.5,950.4 1004.7,963.4 1006.9,959.9 1009.1,934.7 1011.3,962.7 1013.5,966.6 1015.7,964.7 1017.9,950.3" stroke-width="5.6"/>
<polyline points="256.2,555.2 258.4,576.4 260.6,601.3 262.8,625.9 265.0,643.4 267.2,658.3 269.4,676.7 271.6,691.9 273.7,712.8 275.9,726.3 278.1,742.9 280.3,755.5 282.5,767.3 284.7,781.1 286.9,791.0 289.1,800.5 291.3,814.4 293.5,821.7 295.7,833.1 297.9,841.5 300.1,849.8 302.3,859.4 304.5,866.5 306.7,871.2 308.9,878.3 311.1,886.8 313.3,886.2 315.5,893.9 317.6,901.0 319.8,905.3 322.0,906.5 324.2,914.3 326.4,917.2 328.6,924.6 330.8,921.6 333.0,926.9 335.2,923.9 337.4,932.6 339.6,934.2 341.8,934.9 344.0,935.1 346.2,939.5 348.4,935.9 350.6,939.6 352.8,937.7 355.0,935.5 357.2,938.8 359.4,933.9 361.6,936.6 363.7,935.6 365.9,932.3 368.1,932.6 370.3,925.2 372.5,930.8 374.7,925.5 376.9,923.2 379.1,917.4 381.3,919.6 383.5,920.1 385.7,915.9 387.9,917.8 390.1,907.0 392.3,901.2 394.5,896.6 396.7,887.4 398.9,883.5 401.1,871.0 403.3,864.3 405.5,860.0 407.6,848.3 409.8,841.5 412.0,832.8 414.2,825.2 416.4,817.3 418.6,810.9 420.8,805.7 423.0,792.3 425.2,787.5 427.4,776.0 429.6,768.2 431.8,761.1 434.0,748.0 436.2,739.5 438.4,726.8 440.6,719.4 442.8,703.1 445.0,689.6 447.2,681.7 449.4,673.3 451.5,660.4 453.7,651.5 455.9,638.4 458.1,628.5 460.3,623.5 462.5,612.5 464.7,604.5 466.9,594.8 469.1,587.8 471.3,575.9 473.5,569.1 475.7,558.8 477.9,547.3 480.1,535.0 482.3,525.8 484.5,511.1 486.7,502.5 488.9,494.3 491.1,478.4 493.3,468.3 495.5,456.3 497.6,449.7 499.8,439.8 502.0,425.9 504.2,422.5 506.4,409.4 508.6,400.3 510.8,397.9 513.0,389.1 515.2,382.7 517.4,378.5 519.6,377.1 521.8,369.5 524.0,362.6 526.2,358.4 528.4,349.4 530.6,340.1 532.8,335.2 535.0,329.7 537.2,321.2 539.4,314.3 541.5,303.9 543.7,300.0 545.9,293.5 548.1,293.5 550.3,283.4 552.5,281.0 554.7,284.3 556.9,264.7 559.1,266.1 561.3,262.0 563.5,268.7 565.7,251.5 567.9,251.0 570.1,242.8 572.3,244.9 574.5,243.0 576.7,237.9 578.9,233.8 581.1,230.7 583.3,227.2 585.5,225.1 587.6,220.9 589.8,215.8 592.0,220.0 594.2,204.7 596.4,200.8 598.6,216.6 600.8,206.0 603.0,199.7 605.2,206.1 607.4,199.7 609.6,194.4 611.8,198.4 614.0,193.3 616.2,199.8 618.4,186.3 620.6,193.5 622.8,188.7 625.0,188.6 627.2,190.3 629.4,193.2 631.5,191.2 633.7,197.0 635.9,193.0 638.1,199.1 640.3,193.2 642.5,181.9 644.7,195.5 646.9,191.8 649.1,197.3 651.3,192.9 653.5,202.1 655.7,196.8 657.9,196.8 660.1,204.4 662.3,206.3 664.5,199.3 666.7,208.1 668.9,209.5 671.1,221.6 673.3,230.1 675.4,227.4 677.6,217.4 679.8,233.9 682.0,221.9 684.2,241.8 686.4,248.3 688.6,249.0 690.8,271.3 693.0,271.2 695.2,266.7 697.4,266.4 699.6,273.9 701.8,278.2 704.0,282.3 706.2,294.4 708.4,292.4 710.6,304.9 712.8,320.5 715.0,316.8 717.2,327.1 719.4,328.5 721.5,329.8 723.7,344.0 725.9,349.9 728.1,361.2 730.3,366.3 732.5,377.9 734.7,389.8 736.9,387.0 739.1,388.4 741.3,398.5 743.5,402.7 745.7,414.3 747.9,422.1 750.1,417.7 752.3,427.2 754.5,436.9 756.7,442.8 758.9,449.2 761.1,457.3 763.3,453.8 765.4,466.1 767.6,473.6 769.8,488.4 772.0,489.7 774.2,489.7 776.4,504.9 778.6,502.4 780.8,506.3 783.0,506.4 785.2,522.5 787.4,531.7 789.6,538.7 791.8,534.9 794.0,546.3 796.2,547.1 798.4,558.3 800.6,584.0 802.8,576.3 805.0,580.3 807.2,592.8 809.4,593.0 811.5,609.8 813.7,616.7 815.9,609.7 818.1,633.1 820.3,635.4 822.5,645.0 824.7,663.3 826.9,645.1 829.1,672.1 831.3,664.8 833.5,678.3 835.7,664.9 837.9,706.2 840.1,696.0 842.3,692.7 844.5,695.2 846.7,709.4 848.9,704.3 851.1,714.1" stroke-width="5.0"/>
<polyline points="851.1,714.1 853.3,711.6 855.4,693.5 857.6,713.8 859.8,716.6 862.0,727.7 864.2,740.7 866.4,738.3 868.6,725.8 870.8,740.9 873.0,748.3 875.2,746.5 877.4,757.9 879.6,770.6 881.8,758.5 884.0,755.5 886.2,761.5 888.4,767.1 890.6,778.0 892.8,790.4 895.0,802.0 897.2,774.5 899.3,805.0 901.5,824.4 903.7,795.9 905.9,802.4 908.1,799.4 910.3,836.1 912.5,816.8 914.7,804.2 916.9,835.6 919.1,841.4 921.3,836.3 923.5,849.0 925.7,875.4 927.9,859.1 930.1,854.3 932.3,838.4 934.5,865.2 936.7,840.4 938.9,864.3 941.1,882.8 943.3,873.9 945.4,889.0 947.6,893.9 949.8,912.6 952.0,923.8 954.2,909.1 956.4,916.4 958.6,917.8 960.8,867.7 963.0,902.6 965.2,918.4 967.4,915.1 969.6,938.9 971.8,935.3 974.0,929.4 976.2,927.6 978.4,938.2 980.6,917.8 982.8,952.3 985.0,942.1 987.2,947.0 989.3,928.5 991.5,940.0 993.7,948.8 995.9,952.8 998.1,928.3 1000.3,956.5 1002.5,961.3 1004.7,971.6 1006.9,970.7 1009.1,953.5 1011.3,979.8 1013.5,954.4 1015.7,956.5 1017.9,974.6" stroke-width="5.6"/>
<polyline points="256.2,529.5 258.4,551.8 260.6,577.9 262.8,597.1 265.0,623.3 267.2,641.5 269.4,660.7 271.6,680.5 273.7,697.0 275.9,713.7 278.1,727.7 280.3,741.0 282.5,757.3 284.7,767.0 286.9,780.6 289.1,792.5 291.3,804.5 293.5,814.4 295.7,824.6 297.9,835.9 300.1,842.6 302.3,852.6 304.5,859.5 306.7,865.8 308.9,873.5 311.1,874.9 313.3,886.1 315.5,890.3 317.6,894.0 319.8,900.0 322.0,904.9 324.2,908.6 326.4,918.6 328.6,915.3 330.8,919.8 333.0,922.2 335.2,925.8 337.4,928.5 339.6,929.3 341.8,927.5 344.0,930.7 346.2,933.5 348.4,935.4 350.6,937.2 352.8,934.1 355.0,935.2 357.2,935.3 359.4,933.2 361.6,937.0 363.7,932.3 365.9,929.3 368.1,932.2 370.3,932.6 372.5,925.1 374.7,924.4 376.9,920.7 379.1,921.6 381.3,919.4 383.5,917.1 385.7,911.6 387.9,912.6 390.1,907.9 392.3,906.1 394.5,896.1 396.7,884.0 398.9,878.6 401.1,864.7 403.3,865.4 405.5,855.2 407.6,846.9 409.8,837.4 412.0,832.2 414.2,823.0 416.4,814.8 418.6,806.9 420.8,797.6 423.0,790.7 425.2,778.6 427.4,775.6 429.6,764.9 431.8,755.8 434.0,746.1 436.2,734.8 438.4,723.8 440.6,709.5 442.8,699.7 445.0,688.4 447.2,677.4 449.4,667.5 451.5,656.3 453.7,647.5 455.9,638.1 458.1,631.4 460.3,622.0 462.5,610.3 464.7,603.8 466.9,592.5 469.1,586.2 471.3,575.9 473.5,560.2 475.7,557.1 477.9,545.0 480.1,529.9 482.3,521.3 484.5,510.1 486.7,498.8 488.9,484.7 491.1,475.1 493.3,461.8 495.5,454.5 497.6,444.9 499.8,430.5 502.0,427.4 504.2,413.8 506.4,408.4 508.6,399.3 510.8,392.4 513.0,387.2 515.2,382.4 517.4,375.2 519.6,369.0 521.8,364.6 524.0,361.9 526.2,351.0 528.4,341.2 530.6,335.2 532.8,330.6 535.0,320.9 537.2,313.0 539.4,310.5 541.5,301.9 543.7,293.7 545.9,286.5 548.1,285.4 550.3,279.1 552.5,275.9 554.7,271.7 556.9,264.3 559.1,271.2 561.3,259.2 563.5,255.4 565.7,247.7 567.9,243.2 570.1,240.4 572.3,239.4 574.5,234.3 576.7,235.3 578.9,231.3 581.1,227.3 583.3,223.5 585.5,218.0 587.6,210.4 589.8,210.5 592.0,201.7 594.2,210.4 596.4,203.6 598.6,200.9 600.8,197.3 603.0,200.7 605.2,196.0 607.4,190.1 609.6,194.5 611.8,189.2 614.0,190.1 616.2,189.9 618.4,188.3 620.6,192.0 622.8,185.3 625.0,185.2 627.2,182.9 629.4,186.0 631.5,196.4 633.7,185.1 635.9,176.5 638.1,190.9 640.3,191.5 642.5,185.0 644.7,180.4 646.9,182.8 649.1,194.3 651.3,189.5 653.5,194.2 655.7,190.6 657.9,198.5 660.1,197.7 662.3,207.2 664.5,203.1 666.7,205.0 668.9,198.4 671.1,220.7 673.3,211.2 675.4,224.0 677.6,235.7 679.8,234.7 682.0,233.3 684.2,233.6 686.4,220.7 688.6,241.2 690.8,249.3 693.0,241.8 695.2,254.1 697.4,267.5 699.6,269.2 701.8,267.1 704.0,278.1 706.2,285.2 708.4,288.2 710.6,297.4 712.8,304.7 715.0,310.1 717.2,326.0 719.4,317.2 721.5,331.8 723.7,332.0 725.9,344.7 728.1,340.5 730.3,356.5 732.5,358.7 734.7,368.2 736.9,372.3 739.1,377.3 741.3,385.9 743.5,402.8 745.7,398.5 747.9,423.6 750.1,417.2 752.3,403.8 754.5,428.0 756.7,427.5 758.9,438.3 761.1,447.5 763.3,461.1 765.4,456.3 767.6,477.2 769.8,479.0 772.0,478.4 774.2,486.0 776.4,486.3 778.6,497.5 780.8,503.5 783.0,511.6 785.2,507.0 787.4,511.8 789.6,526.6 791.8,530.3 794.0,520.3 796.2,542.6 798.4,548.7 800.6,552.5 802.8,561.1 805.0,570.8 807.2,581.1 809.4,590.1 811.5,574.9 813.7,602.6 815.9,598.1 818.1,617.1 820.3,624.3 822.5,634.4 824.7,661.5 826.9,638.3 829.1,646.9 831.3,654.5 833.5,666.7 835.7,667.9 837.9,684.9 840.1,669.9 842.3,681.3 844.5,691.5 846.7,686.6 848.9,699.6 851.1,699.8" stroke-width="5.0"/>
<polyline points="851.1,699.8 853.3,708.7 855.4,707.9 857.6,721.2 859.8,710.2 862.0,722.2 864.2,731.6 866.4,732.3 868.6,733.6 870.8,732.5 873.0,745.9 875.2,770.1 877.4,754.6 879.6,766.3 881.8,764.3 884.0,764.8 886.2,764.1 888.4,772.8 890.6,761.9 892.8,780.2 895.0,798.2 897.2,780.3 899.3,798.5 901.5,795.0 903.7,772.5 905.9,799.5 908.1,794.3 910.3,807.6 912.5,828.3 914.7,851.5 916.9,833.2 919.1,826.1 921.3,838.6 923.5,862.5 925.7,833.2 927.9,838.6 930.1,856.1 932.3,868.9 934.5,854.8 936.7,874.3 938.9,884.8 941.1,879.8 943.3,858.9 945.4,869.3 947.6,848.2 949.8,865.2 952.0,885.7 954.2,855.3 956.4,894.8 958.6,900.0 960.8,885.3 963.0,894.2 965.2,940.0 967.4,911.6 969.6,896.5 971.8,895.2 974.0,925.0 976.2,929.2 978.4,926.4 980.6,949.7 982.8,934.1 985.0,927.1 987.2,940.6 989.3,957.6 991.5,925.1 993.7,932.7 995.9,948.1 998.1,965.0 1000.3,963.8 1002.5,951.9 1004.7,948.4 1006.9,969.6 1009.1,982.3 1011.3,965.9 1013.5,964.1 1015.7,955.8 1017.9,966.5" stroke-width="5.6"/>
</g>
<rect x="261" y="41.5" width="749.5" height="1044" fill="none" stroke="#000" stroke-width="5.5"/>
<path d="M264 1038.6H288 M264 920.1H288 M264 801.6H288 M264 683.1H288 M264 564.6H288 M264 446.1H288 M264 327.6H288 M264 209.1H288 M264 90.6H288 M279.6 1083V1061.5 M425.9 1083V1061.5 M572.3 1083V1061.5 M718.6 1083V1061.5 M865.0 1083V1061.5 M1011.3 1083V1061.5" stroke="#111" stroke-width="4" fill="none"/>
<g font-family="Liberation Sans, sans-serif" font-size="57" fill="#000">
<text x="236" y="1054.6" text-anchor="end">0</text>
<text x="236" y="936.1" text-anchor="end">50</text>
<text x="236" y="817.6" text-anchor="end">100</text>
<text x="236" y="699.1" text-anchor="end">150</text>
<text x="236" y="580.6" text-anchor="end">200</text>
<text x="236" y="462.1" text-anchor="end">250</text>
<text x="236" y="343.6" text-anchor="end">300</text>
<text x="236" y="225.1" text-anchor="end">350</text>
<text x="236" y="106.6" text-anchor="end">400</text>
<text x="278.6" y="1164" text-anchor="middle">400</text>
<text x="424.9" y="1164" text-anchor="middle">500</text>
<text x="571.3" y="1164" text-anchor="middle">600</text>
<text x="717.6" y="1164" text-anchor="middle">700</text>
<text x="864.0" y="1164" text-anchor="middle">800</text>
<text x="1010.3" y="1164" text-anchor="middle">900</text>
</g>
<text x="387.5" y="1273" font-family="Liberation Sans, sans-serif" font-size="66" textLength="501" lengthAdjust="spacingAndGlyphs">Wavelength (nm)</text>
<text transform="translate(89,963) rotate(-90)" font-family="Liberation Sans, sans-serif" font-size="66">Molar absorbivity (M<tspan font-size="42" dy="-32">-1</tspan><tspan dy="32"> cm</tspan><tspan font-size="42" dy="-32">-1</tspan><tspan dy="32">)</tspan></text>
<text transform="translate(862,152.5) scale(0.77,1)" font-family="Liberation Sans, sans-serif" font-size="100">a</text>
<text transform="translate(917,144) scale(0.84,1)" font-family="Liberation Sans, sans-serif" font-size="92">)</text>
<rect x="1397.5" y="38.3" width="614.5" height="1039.7" fill="none" stroke="#000" stroke-width="5.5"/>
<path d="M1400 126.5H1424 M1400 273.4H1424 M1400 420H1424 M1400 567.5H1424 M1400 714.9H1424 M1400 861.9H1424 M1400 1006.5H1424 M1415.8 1076V1056 M1559.1 1076V1056 M1705.9 1076V1056 M1853.4 1076V1056 M2000.2 1076V1056" stroke="#111" stroke-width="4" fill="none"/>
<g font-family="Liberation Sans, sans-serif" font-size="57" fill="#000">
<text x="1367.5" y="142.5" text-anchor="end">360</text>
<text x="1367.5" y="289.4" text-anchor="end">340</text>
<text x="1367.5" y="436.0" text-anchor="end">320</text>
<text x="1367.5" y="583.5" text-anchor="end">300</text>
<text x="1367.5" y="730.9" text-anchor="end">280</text>
<text x="1367.5" y="877.9" text-anchor="end">260</text>
<text x="1367.5" y="1022.5" text-anchor="end">240</text>
<text x="1414.8" y="1159" text-anchor="middle" font-size="59">0</text>
<text x="1558.1" y="1159" text-anchor="middle" font-size="59">1</text>
<text x="1704.9" y="1159" text-anchor="middle" font-size="59">2</text>
<text x="1852.4" y="1159" text-anchor="middle" font-size="59">3</text>
<text x="1999.2" y="1159" text-anchor="middle" font-size="59">4</text>
</g>
<path d="M1395.6 914.8H1434.0L1414.8 948.3Z M1427.7 789.5H1466.1L1446.9 823.0Z M1459.8 639.6H1498.2L1479.0 673.1Z M1492.3 374.1H1530.7L1511.5 407.6Z M1523.8 339.2H1562.2L1543.0 372.7Z M1555.3 236.5H1593.7L1574.5 270.0Z M1587.8 217.2H1626.2L1607.0 250.7Z M1619.6 179.0H1658.0L1638.8 212.5Z M1651.8 195.3H1690.2L1671.0 228.8Z M1684.4 163.0H1722.8L1703.6 196.5Z M1715.4 83.4H1753.8L1734.6 116.9Z M1747.6 141.0H1786.0L1766.8 174.5Z M1779.9 143.7H1818.3L1799.1 177.2Z M1843.7 118.6H1882.1L1862.9 152.1Z M1908.0 124.3H1946.4L1927.2 157.8Z M1971.4 105.7H2009.8L1990.6 139.2Z" fill="#000"/>
<text x="1330" y="1267" font-family="Liberation Sans, sans-serif" font-size="66" textLength="748" lengthAdjust="spacingAndGlyphs">Equivalents of ImH added</text>
<text transform="translate(1224.5,1077) rotate(-90)" font-family="Liberation Sans, sans-serif" font-size="66">Molar absorbivity 640 nm (M<tspan font-size="42" dy="-32">-1</tspan><tspan dy="32"> cm</tspan><tspan font-size="42" dy="-32">-1</tspan><tspan dy="32">)</tspan></text>
<text x="1502" y="152" font-family="Liberation Sans, sans-serif" font-size="103">b</text>
<text transform="translate(1563,144) scale(0.84,1)" font-family="Liberation Sans, sans-serif" font-size="92">)</text>
</svg>
</body></html>
